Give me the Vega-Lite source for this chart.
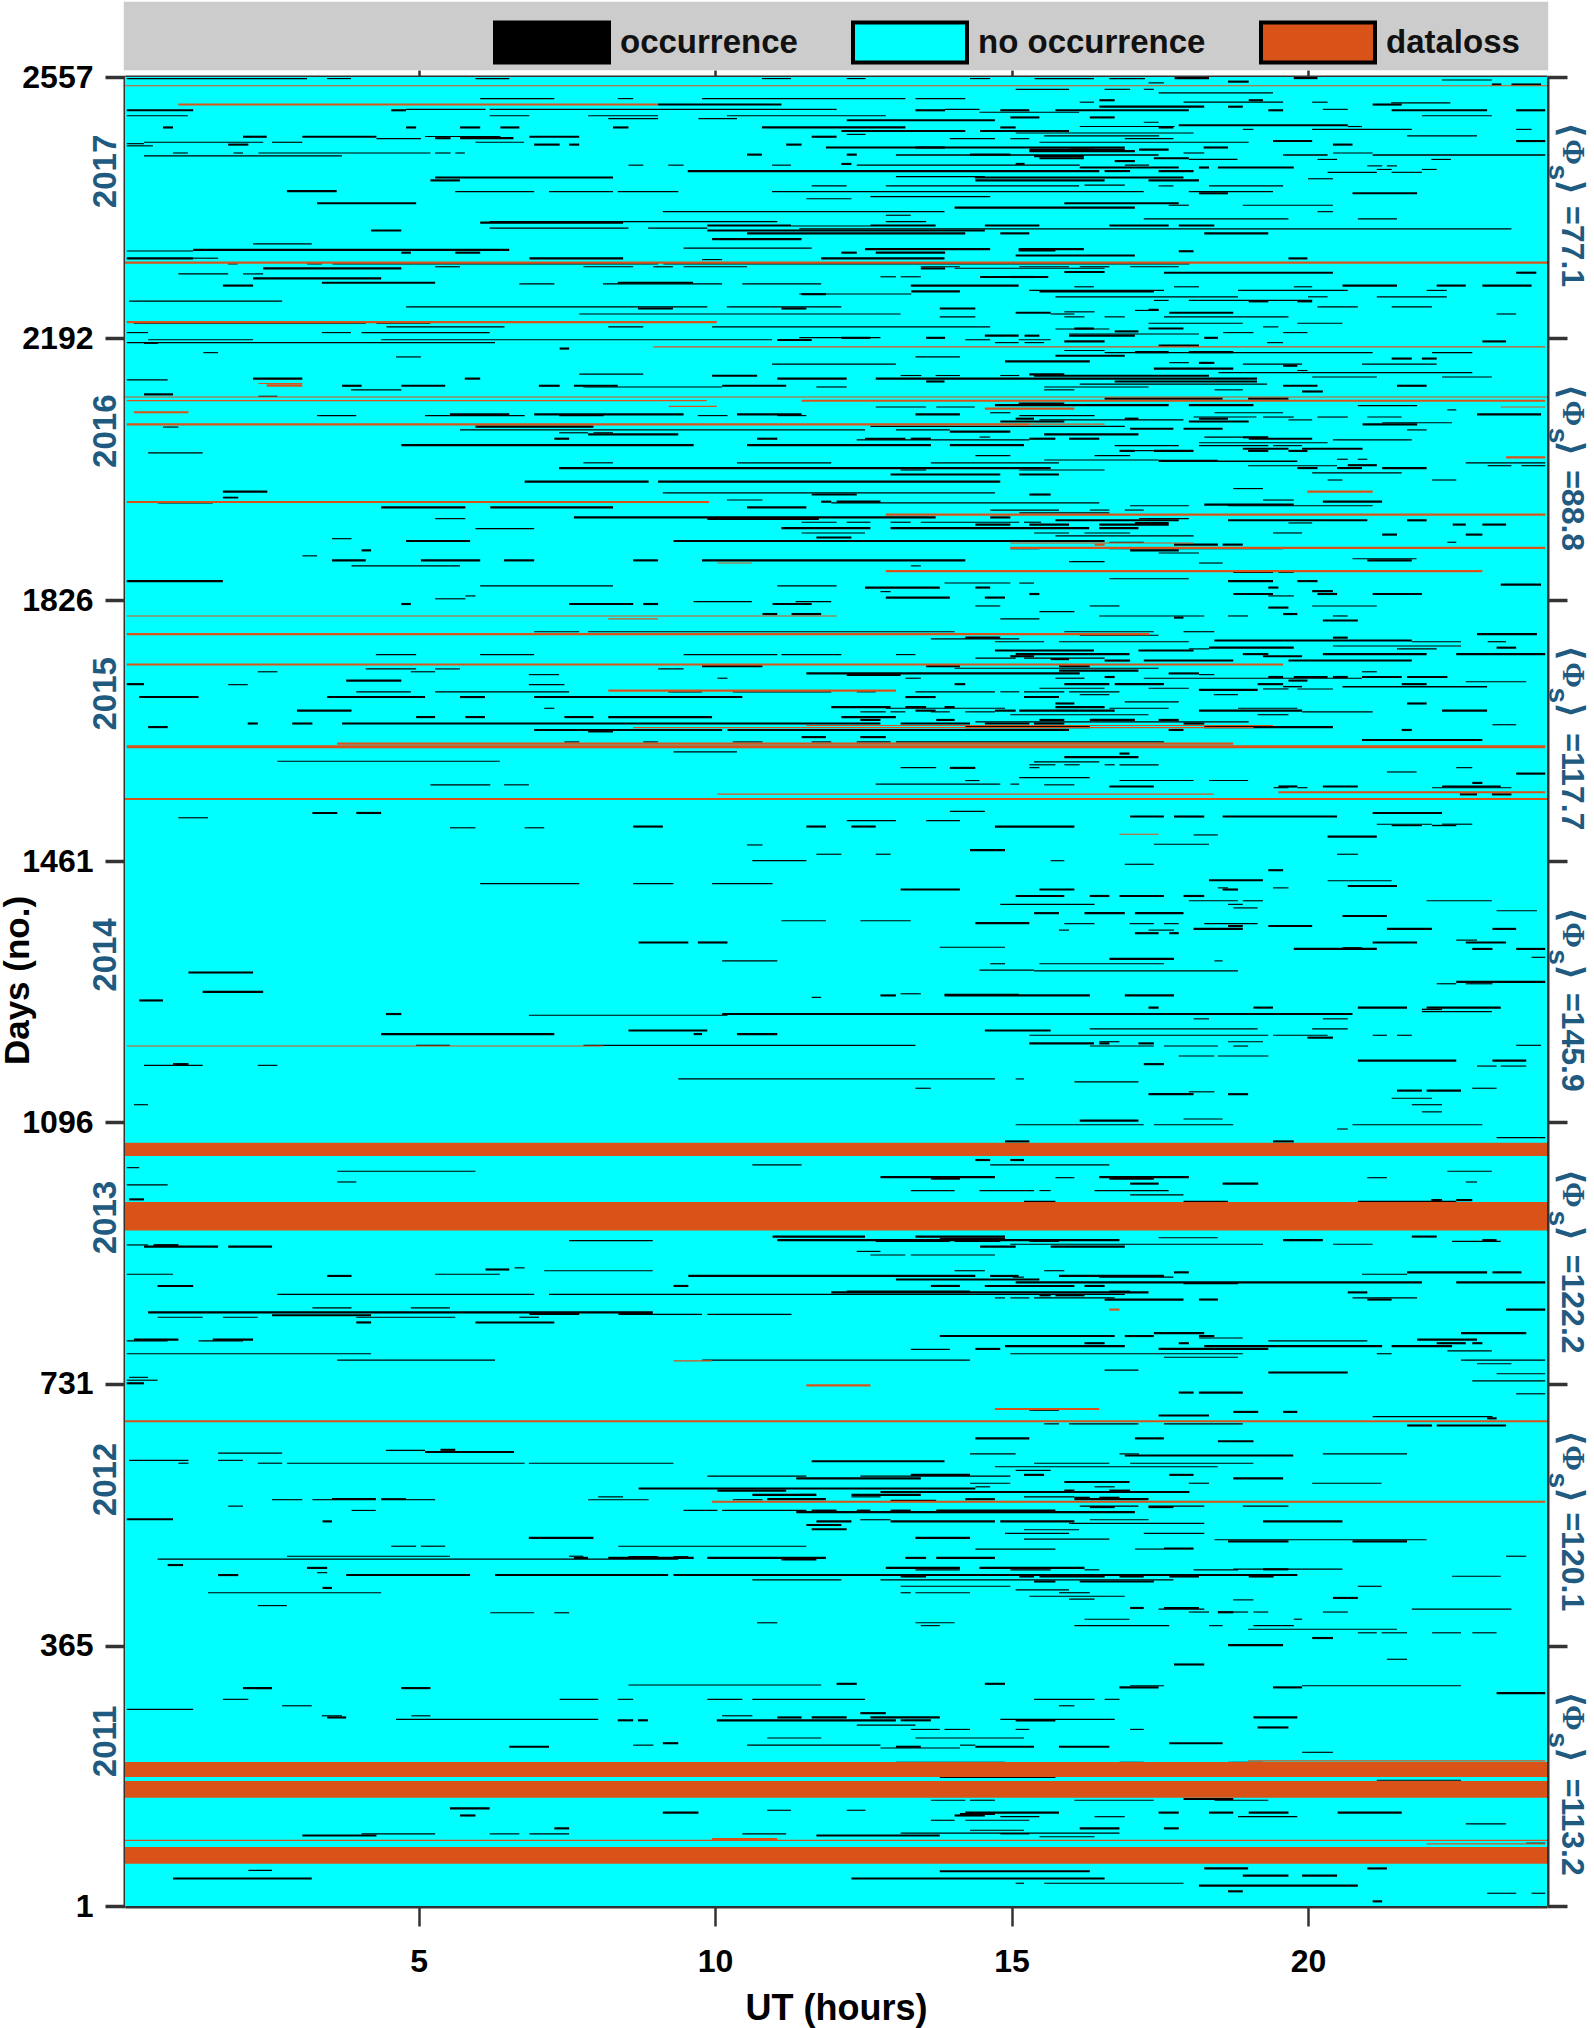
{"$schema":"https://vega.github.io/schema/vega-lite/v6.json","autosize":{"type":"none"},"padding":{"left":125,"top":77,"right":47,"bottom":122},"width":1422,"height":1829,"background":"white","config":{"view":{"stroke":null},"font":"Liberation Sans"},
"datasets":{"occ":[
{"d":2554,"f":2555.6,"s":0.08,"e":3.12},{"d":2554,"f":2555.6,"s":3.46,"e":3.86},{"d":2554,"f":2555.6,"s":5.96,"e":6.53},{"d":2554,"f":2555.6,"s":10.79,"e":11.28},{"d":2554,"f":2555.6,"s":12.22,"e":12.54},{"d":2554,"f":2555.6,"s":14.3,"e":14.64},{"d":2554,"f":2555.6,"s":15.39,"e":16.39},{"d":2554,"f":2555.6,"s":16.65,"e":17.25},{"d":2554,"f":2557,"s":17.75,"e":18.33},{"d":2554,"f":2557,"s":19.76,"e":20.16},{"d":2549,"f":2552,"s":18.65,"e":19},{"d":2552,"f":2553.6,"s":22.26,"e":23.1},{"d":2548,"f":2549.6,"s":17.31,"e":17.57},{"d":2545,"f":2548,"s":23.1,"e":23.26},{"d":2545,"f":2548,"s":23.43,"e":23.93},
{"d":2539,"f":2540.6,"s":15.07,"e":15.97},{"d":2539,"f":2540.6,"s":16.57,"e":17},{"d":2539,"f":2540.6,"s":17.23,"e":17.4},{"d":2534,"f":2535.6,"s":17.48,"e":19.41},{"d":2526,"f":2527.6,"s":6.04,"e":7.29},{"d":2526,"f":2527.6,"s":8.36,"e":8.62},{"d":2526,"f":2527.6,"s":9.78,"e":13.21},{"d":2526,"f":2527.6,"s":13.38,"e":14.22},{"d":2523,"f":2526,"s":16.48,"e":16.74},{"d":2523,"f":2526,"s":19,"e":19.24},{"d":2521,"f":2522.6,"s":16.15,"e":16.39},{"d":2521,"f":2522.6,"s":17.9,"e":19.58},{"d":2521,"f":2522.6,"s":20.07,"e":20.33},{"d":2520,"f":2521.6,"s":21.4,"e":22.4},{"d":2517,"f":2520,"s":9.04,"e":11.12},{"d":2517,"f":2520,"s":21.09,"e":21.58},{"d":2514,"f":2517,"s":16.48,"e":18.25},{"d":2514,"f":2517,"s":18.65,"e":18.9},
{"d":2511,"f":2512.6,"s":4.79,"e":6.13},{"d":2511,"f":2512.6,"s":6.2,"e":12.05},{"d":2511,"f":2512.6,"s":13.88,"e":14.46},{"d":2511,"f":2512.6,"s":20.25,"e":20.67},{"d":2509,"f":2512,"s":0.08,"e":1.2},{"d":2509,"f":2512,"s":4.54,"e":4.79},{"d":2509,"f":2512,"s":13.38,"e":13.88},{"d":2509,"f":2512,"s":14.81,"e":15.3},{"d":2509,"f":2512,"s":15.74,"e":17.99},{"d":2509,"f":2512,"s":19.33,"e":19.58},{"d":2509,"f":2512,"s":21.41,"e":23.02},{"d":2509,"f":2512,"s":23.51,"e":24},{"d":2507,"f":2508.6,"s":14.46,"e":16.14},{"d":2502,"f":2503.6,"s":0.08,"e":1.11},{"d":2502,"f":2503.6,"s":6.2,"e":6.87},{"d":2502,"f":2503.6,"s":7.86,"e":9.04},{"d":2502,"f":2503.6,"s":10.2,"e":12.88},{"d":2502,"f":2503.6,"s":21.92,"e":23.1},{"d":2499,"f":2502,"s":14.98,"e":15.47},{"d":2499,"f":2502,"s":16.32,"e":16.74},{"d":2498,"f":2499.6,"s":8.2,"e":9.04},{"d":2498,"f":2499.6,"s":9.72,"e":10.37},{"d":2495,"f":2498,"s":12.22,"e":14.72},{"d":2493,"f":2494.6,"s":17.23,"e":17.48},{"d":2488,"f":2491,"s":17.82,"e":20.67},{"d":2487,"f":2488.6,"s":16.15,"e":17.75},{"d":2487,"f":2488.6,"s":20.67,"e":20.91},{"d":2485,"f":2488,"s":0.69,"e":0.86},{"d":2485,"f":2488,"s":4.79,"e":4.96},{"d":2485,"f":2488,"s":5.7,"e":6.04},{"d":2485,"f":2488,"s":6.38,"e":6.7},{"d":2485,"f":2488,"s":8.28,"e":8.54},{"d":2485,"f":2488,"s":10.79,"e":13.21},{"d":2485,"f":2488,"s":14.81,"e":15.07},{"d":2485,"f":2488,"s":17.48,"e":17.73},{"d":2483,"f":2484.6,"s":20.07,"e":21.75},{"d":2483,"f":2484.6,"s":23.51,"e":23.77},{"d":2483,"f":2484.6,"s":18.9,"e":19.08},{"d":2480,"f":2483,"s":12.13,"e":14.22},{"d":2480,"f":2483,"s":14.47,"e":15.97},{"d":2478,"f":2479.6,"s":15.07,"e":18.07},{"d":2476,"f":2477.6,"s":12.22,"e":12.54},
{"d":2474,"f":2475.6,"s":15.55,"e":17.49},{"d":2474,"f":2475.6,"s":21.67,"e":22.85},{"d":2472,"f":2475,"s":2.04,"e":2.44},{"d":2472,"f":2475,"s":3.04,"e":4.29},{"d":2473,"f":2474.6,"s":5.11,"e":6.38},{"d":2472,"f":2475,"s":6.87,"e":7.71},{"d":2472,"f":2475,"s":11.63,"e":12.05},{"d":2470,"f":2473,"s":5.28,"e":5.54},{"d":2470,"f":2473,"s":5.7,"e":6.6},{"d":2470,"f":2471.6,"s":4.29,"e":5.04},{"d":2470,"f":2471.6,"s":13.96,"e":14.72},{"d":2470,"f":2471.6,"s":14.98,"e":15.3},{"d":2470,"f":2471.6,"s":16.91,"e":17.73},{"d":2466,"f":2469,"s":19.41,"e":20.07},{"d":2466,"f":2469,"s":23.51,"e":24},{"d":2465,"f":2466.6,"s":0.37,"e":2.38},{"d":2465,"f":2466.6,"s":2.53,"e":3.04},{"d":2465,"f":2466.6,"s":5.96,"e":6.78},{"d":2465,"f":2466.6,"s":15.47,"e":19},{"d":2463,"f":2464.6,"s":0.08,"e":0.37},{"d":2461,"f":2464,"s":1.79,"e":2.13},{"d":2461,"f":2464,"s":6.95,"e":7.38},{"d":2461,"f":2464,"s":7.54,"e":7.71},{"d":2461,"f":2464,"s":11.2,"e":11.46},{"d":2461,"f":2464,"s":20.42,"e":20.75},{"d":2460,"f":2461.6,"s":0.08,"e":0.52},{"d":2457,"f":2460,"s":11.87,"e":16.91},{"d":2457,"f":2460,"s":13.38,"e":13.88},{"d":2457,"f":2460,"s":18.24,"e":18.65},{"d":2454,"f":2457,"s":15.3,"e":16.39},{"d":2454,"f":2457,"s":15.97,"e":16.91},{"d":2454,"f":2457,"s":17.15,"e":17.65},{"d":2452,"f":2455,"s":15.3,"e":17.08},{"d":2450,"f":2451.6,"s":0.86,"e":1.11},{"d":2450,"f":2451.6,"s":1.88,"e":2.04},{"d":2450,"f":2451.6,"s":2.3,"e":5.2},{"d":2450,"f":2451.6,"s":5.28,"e":5.54},{"d":2450,"f":2451.6,"s":5.62,"e":5.78},{"d":2450,"f":2451.6,"s":17.9,"e":18.25},{"d":2450,"f":2451.6,"s":20.42,"e":21.09},{"d":2447,"f":2450,"s":10.54,"e":10.79},{"d":2447,"f":2449,"s":13.05,"e":17.48},{"d":2447,"f":2449,"s":19.58,"e":20.33},{"d":2447,"f":2449,"s":21.09,"e":24},{"d":2447,"f":2450,"s":12.22,"e":12.39},{"d":2447,"f":2450,"s":14.3,"e":14.98},{"d":2445,"f":2448,"s":15.38,"e":16.22},{"d":2446,"f":2447.6,"s":0.37,"e":3.71},{"d":2442,"f":2445,"s":15.47,"e":16.22},{"d":2442,"f":2445,"s":17.4,"e":17.99},{"d":2441,"f":2442.6,"s":17.99,"e":18.81},{"d":2441,"f":2442.6,"s":20.16,"e":20.49},{"d":2441,"f":2442.6,"s":22.08,"e":22.41},{"d":2438,"f":2441,"s":16.74,"e":17.08},{"d":2434,"f":2437,"s":12.13,"e":12.3},{"d":2434,"f":2437,"s":15.07,"e":15.22},{"d":2433,"f":2434.6,"s":8.54,"e":8.79},{"d":2433,"f":2434.6,"s":9.21,"e":9.47},{"d":2433,"f":2434.6,"s":10.96,"e":11.28},{"d":2433,"f":2434.6,"s":12.39,"e":16.15},{"d":2433,"f":2434.6,"s":16.91,"e":17.32},{"d":2432,"f":2433.6,"s":21,"e":21.25},{"d":2432,"f":2433.6,"s":21.33,"e":21.5},{"d":2429,"f":2432,"s":16.15,"e":17.82},{"d":2429,"f":2432,"s":18.16,"e":18.33},{"d":2429,"f":2432,"s":18.48,"e":19.76},{"d":2427,"f":2428.6,"s":21.16,"e":21.41},{"d":2427,"f":2428.6,"s":21.92,"e":22.17},{"d":2424,"f":2427,"s":9.54,"e":16.48},{"d":2424,"f":2427,"s":16.57,"e":17},{"d":2424,"f":2427,"s":17.48,"e":18.07},{"d":2423,"f":2424.6,"s":20.33,"e":21.16},{"d":2423,"f":2424.6,"s":21.41,"e":21.92},{"d":2417,"f":2418.6,"s":13.05,"e":14.55},{"d":2415,"f":2418,"s":5.28,"e":8.28},{"d":2415,"f":2418,"s":14.38,"e":17.9},{"d":2414,"f":2415.6,"s":20,"e":20.42},{"d":2411,"f":2414,"s":5.2,"e":5.7},{"d":2411,"f":2414,"s":14.39,"e":16.57},{"d":2411,"f":2414,"s":17.31,"e":18.16},{"d":2405,"f":2406.6,"s":16.23,"e":16.91},{"d":2404,"f":2405.6,"s":11.63,"e":12.22},{"d":2404,"f":2405.6,"s":12.88,"e":16.14},{"d":2404,"f":2405.6,"s":17.48,"e":17.73},{"d":2404,"f":2405.6,"s":18.33,"e":19.58},{"d":2396,"f":2399,"s":2.78,"e":3.62},{"d":2396,"f":2397.6,"s":5.62,"e":6.95},{"d":2396,"f":2397.6,"s":7.2,"e":8.28},{"d":2396,"f":2397.6,"s":8.36,"e":9.38},{"d":2396,"f":2397.6,"s":10.96,"e":17.23},{"d":2396,"f":2397.6,"s":17.99,"e":19.41},{"d":2393,"f":2396,"s":18.16,"e":18.65},{"d":2393,"f":2396,"s":20.75,"e":21.84},{"d":2389,"f":2390.6,"s":12.62,"e":14.64},{"d":2386,"f":2387.6,"s":11.54,"e":12.3},
{"d":2379,"f":2382,"s":3.29,"e":4.96},{"d":2379,"f":2382,"s":15.89,"e":17.82},{"d":2377,"f":2378.6,"s":17.65,"e":17.99},{"d":2377,"f":2378.6,"s":18.9,"e":20.42},{"d":2373,"f":2376,"s":14.04,"e":17.08},{"d":2368,"f":2369.6,"s":9.12,"e":13.87},{"d":2368,"f":2369.6,"s":20.16,"e":20.42},{"d":2363,"f":2364.6,"s":12.88,"e":13.3},{"d":2358,"f":2359.6,"s":17.23,"e":19.67},{"d":2358,"f":2359.6,"s":20.84,"e":21.5},{"d":2354,"f":2355.6,"s":6.2,"e":11.05},{"d":2354,"f":2355.6,"s":12.88,"e":13.56},{"d":2352,"f":2355,"s":6.04,"e":8.45},{"d":2348,"f":2351,"s":9.87,"e":11.28},{"d":2348,"f":2349.6,"s":11.28,"e":12.62},{"d":2348,"f":2351,"s":12.62,"e":13.72},{"d":2348,"f":2351,"s":14.55,"e":15.47},{"d":2348,"f":2351,"s":16.65,"e":17.65},{"d":2348,"f":2351,"s":17.82,"e":18.42},{"d":2345,"f":2346.6,"s":6.2,"e":8.54},{"d":2345,"f":2346.6,"s":8.87,"e":9.87},{"d":2344,"f":2345.6,"s":11.42,"e":23.43},{"d":2341,"f":2344,"s":4.2,"e":4.71},{"d":2341,"f":2344,"s":9.87,"e":14.55},{"d":2337,"f":2340,"s":10.54,"e":14.22},{"d":2337,"f":2340,"s":14.81,"e":15.3},{"d":2337,"f":2340,"s":18.25,"e":19.33},{"d":2329,"f":2332,"s":9.95,"e":11.46},{"d":2323,"f":2324.6,"s":2.21,"e":3.2},{"d":2317,"f":2318.6,"s":9.47,"e":11.63},{"d":2315,"f":2318,"s":12.53,"e":14.64},{"d":2315,"f":2318,"s":15.12,"e":16.22},{"d":2314,"f":2317,"s":1.2,"e":6.53},{"d":2313,"f":2314.6,"s":0.08,"e":1.2},{"d":2313,"f":2316,"s":15.12,"e":15.74},{"d":2312,"f":2315,"s":17.82,"e":18.07},{"d":2310,"f":2313,"s":4.71,"e":4.87},{"d":2310,"f":2313,"s":5.62,"e":6.04},{"d":2310,"f":2313,"s":12.13,"e":12.39},{"d":2310,"f":2313,"s":12.71,"e":13.88},{"d":2306,"f":2309,"s":15.07,"e":17.08},{"d":2302,"f":2305,"s":0.08,"e":1.2},{"d":2303,"f":2304.6,"s":1.2,"e":1.62},{"d":2302,"f":2305,"s":6.87,"e":8.45},{"d":2302,"f":2305,"s":11.79,"e":13.87},{"d":2302,"f":2305,"s":19.67,"e":19.99},{"d":2301,"f":2302.6,"s":9.78,"e":10.12},
{"d":2295,"f":2296.6,"s":1.79,"e":1.95},{"d":2295,"f":2296.6,"s":3.12,"e":3.37},{"d":2295,"f":2296.6,"s":3.55,"e":9.04},{"d":2295,"f":2296.6,"s":9.13,"e":18},{"d":2291,"f":2292.6,"s":5.28,"e":5.7},{"d":2291,"f":2292.6,"s":7.78,"e":8.62},{"d":2291,"f":2292.6,"s":8.96,"e":9.29},{"d":2291,"f":2292.6,"s":9.47,"e":10.54},{"d":2291,"f":2292.6,"s":13.47,"e":14.13},{"d":2291,"f":2292.6,"s":15.13,"e":15.97},{"d":2291,"f":2292.6,"s":16.15,"e":16.65},{"d":2291,"f":2292.6,"s":17,"e":17.82},{"d":2288,"f":2291,"s":2.38,"e":4.71},{"d":2288,"f":2291,"s":13.47,"e":13.88},{"d":2289,"f":2290.6,"s":14.04,"e":16.57},{"d":2283,"f":2286,"s":15.89,"e":16.57},{"d":2282,"f":2285,"s":17.57,"e":20.42},{"d":2282,"f":2285,"s":23.51,"e":23.85},{"d":2281,"f":2282.6,"s":0.95,"e":1.79},{"d":2281,"f":2282.6,"s":2.04,"e":2.38},{"d":2276,"f":2279,"s":14.47,"e":15.62},{"d":2276,"f":2279,"s":14.98,"e":15.38},{"d":2277,"f":2278.6,"s":12.79,"e":13.05},{"d":2277,"f":2278.6,"s":13.13,"e":13.47},{"d":2274,"f":2277,"s":2.21,"e":4.37},{"d":2268,"f":2271,"s":3.37,"e":5.28},{"d":2268,"f":2271,"s":8.36,"e":9.63},{"d":2267,"f":2268.6,"s":6.7,"e":7.29},{"d":2267,"f":2268.6,"s":8.11,"e":10.12},{"d":2267,"f":2268.6,"s":10.46,"e":11.79},{"d":2264,"f":2267,"s":1.7,"e":2.21},{"d":2264,"f":2267,"s":13.3,"e":15.12},{"d":2264,"f":2267,"s":20.58,"e":21.5},{"d":2264,"f":2267,"s":22.17,"e":22.66},{"d":2264,"f":2267,"s":22.94,"e":23.77},{"d":2263,"f":2264.6,"s":16.06,"e":16.39},{"d":2263,"f":2264.6,"s":17.74,"e":18.16},{"d":2263,"f":2264.6,"s":19.76,"e":20.07},{"d":2258,"f":2259.6,"s":15.3,"e":17.57},{"d":2258,"f":2259.6,"s":18.82,"e":20.67},{"d":2258,"f":2259.6,"s":22,"e":22.34},{"d":2256,"f":2259,"s":15.47,"e":17.4},{"d":2256,"f":2259,"s":13.31,"e":14.13},{"d":2253,"f":2254.6,"s":11.42,"e":13.31},{"d":2252,"f":2255,"s":11.46,"e":11.87},{"d":2249,"f":2250.6,"s":15.74,"e":18.82},{"d":2249,"f":2250.6,"s":20,"e":20.33},{"d":2249,"f":2250.6,"s":21.16,"e":22.34},{"d":2243,"f":2244.6,"s":0.12,"e":2.7},{"d":2244,"f":2245.6,"s":17.4,"e":17.65},{"d":2244,"f":2245.6,"s":17.99,"e":20.07},{"d":2242,"f":2245,"s":19,"e":19.33},{"d":2242,"f":2245,"s":19.82,"e":20.07},{"d":2235,"f":2236.6,"s":4.79,"e":9.87},{"d":2235,"f":2236.6,"s":10.2,"e":12.13},{"d":2235,"f":2236.6,"s":20.16,"e":20.84},{"d":2235,"f":2236.6,"s":21.41,"e":22.09},{"d":2232,"f":2235,"s":8.7,"e":9.29},{"d":2232,"f":2235,"s":11.12,"e":11.54},{"d":2232,"f":2235,"s":13.79,"e":14.39},{"d":2230,"f":2233,"s":17.31,"e":17.48},{"d":2230,"f":2231.6,"s":17.08,"e":17.48},{"d":2228,"f":2229.6,"s":15.89,"e":16.4},{"d":2226,"f":2229,"s":15.07,"e":15.66},{"d":2226,"f":2229,"s":17.66,"e":18.74},{"d":2225,"f":2226.6,"s":7.71,"e":13.13},{"d":2225,"f":2226.6,"s":15.66,"e":16.06},{"d":2225,"f":2226.6,"s":23.18,"e":23.51},{"d":2221,"f":2222.6,"s":13.79,"e":14.39},{"d":2221,"f":2222.6,"s":15.89,"e":16.23},{"d":2221,"f":2222.6,"s":16.57,"e":16.91},{"d":2221,"f":2222.6,"s":17.57,"e":19.67},{"d":2212,"f":2213.6,"s":0.2,"e":4.11},{"d":2212,"f":2213.6,"s":4.29,"e":5.2},{"d":2212,"f":2213.6,"s":17.31,"e":18.9},{"d":2212,"f":2213.6,"s":19.82,"e":20.58},{"d":2207,"f":2208.6,"s":4.46,"e":6.45},{"d":2207,"f":2208.6,"s":8.2,"e":8.79},{"d":2207,"f":2208.6,"s":9.95,"e":14.64},{"d":2207,"f":2208.6,"s":19.24,"e":19.5},{"d":2204,"f":2205.6,"s":15.74,"e":16.65},{"d":2204,"f":2207,"s":16.06,"e":16.39},{"d":2204,"f":2207,"s":17.31,"e":17.9},{"d":2200,"f":2203,"s":16.74,"e":17.14},{"d":2199,"f":2200.6,"s":0.08,"e":0.44},{"d":2199,"f":2200.6,"s":3.37,"e":3.86},{"d":2199,"f":2200.6,"s":4.04,"e":6.2},{"d":2199,"f":2200.6,"s":18.57,"e":19.08},{"d":2199,"f":2200.6,"s":19.58,"e":19.99},{"d":2197,"f":2198.6,"s":15.97,"e":18.16},{"d":2194,"f":2197,"s":14.55,"e":15.12},{"d":2194,"f":2197,"s":15.22,"e":15.47},{"d":2194,"f":2197,"s":15.97,"e":17.08},{"d":2191,"f":2194,"s":13.56,"e":13.88},{"d":2191,"f":2194,"s":12.13,"e":12.62},{"d":2192,"f":2193.6,"s":11.42,"e":12.79},{"d":2191,"f":2194,"s":18.25,"e":18.48},{"d":2189,"f":2190.6,"s":0.44,"e":2.21},{"d":2189,"f":2190.6,"s":4.37,"e":10.96},{"d":2189,"f":2190.6,"s":14.22,"e":14.64},{"d":2189,"f":2190.6,"s":15.12,"e":15.66},{"d":2188,"f":2191,"s":11.05,"e":11.63},{"d":2186,"f":2189,"s":15.89,"e":16.57},{"d":2186,"f":2189,"s":22.94,"e":23.34},{"d":2185,"f":2186.6,"s":0.08,"e":6.29},{"d":2184,"f":2186,"s":0.37,"e":0.61},{"d":2185,"f":2186.6,"s":14.72,"e":15.12},{"d":2185,"f":2186.6,"s":15.22,"e":15.55},{"d":2185,"f":2186.6,"s":19.31,"e":19.58},{"d":2180,"f":2183,"s":17.48,"e":18.16},{"d":2176,"f":2179,"s":7.38,"e":7.54},{"d":2174,"f":2175.6,"s":15.89,"e":16.57},{"d":2171,"f":2174,"s":17.08,"e":17.65},{"d":2171,"f":2174,"s":17.99,"e":18.74},{"d":2171,"f":2172.6,"s":1.37,"e":1.62},{"d":2171,"f":2172.6,"s":16.57,"e":21.09},{"d":2171,"f":2172.6,"s":22.09,"e":22.77},{"d":2166,"f":2169,"s":15.74,"e":16.91},{"d":2165,"f":2166.6,"s":4.62,"e":5.04},{"d":2165,"f":2166.6,"s":13.38,"e":14.13},{"d":2162,"f":2165,"s":21.41,"e":21.75},{"d":2162,"f":2165,"s":21.92,"e":22.17},{"d":2158,"f":2161,"s":14.89,"e":16.32},{"d":2157,"f":2158.6,"s":17.66,"e":17.99},{"d":2156,"f":2159,"s":18.16,"e":18.42},{"d":2155,"f":2156.6,"s":10.96,"e":13.05},{"d":2155,"f":2156.6,"s":18.9,"e":19.9},{"d":2155,"f":2156.6,"s":20.91,"e":22.17},{"d":2152,"f":2155,"s":19.58,"e":19.82},{"d":2148,"f":2151,"s":17.4,"e":18.74},{"d":2146,"f":2147.6,"s":19.82,"e":19.99},{"d":2143,"f":2144.6,"s":18.49,"e":22.77},{"d":2141,"f":2142.6,"s":7.71,"e":8.79},{"d":2140,"f":2143,"s":15.3,"e":15.89},{"d":2138,"f":2141,"s":9.95,"e":10.71},{"d":2138,"f":2141,"s":15.38,"e":18.33},{"d":2139,"f":2140.6,"s":13.13,"e":13.48},{"d":2139,"f":2140.6,"s":13.72,"e":14.13},{"d":2139,"f":2140.6,"s":14.81,"e":15.13},{"d":2137,"f":2138.6,"s":20.07,"e":21.16},{"d":2137,"f":2138.6,"s":22.26,"e":23.1},{"d":2134,"f":2137,"s":2.21,"e":3.04},{"d":2134,"f":2137,"s":5.78,"e":6.04},{"d":2134,"f":2137,"s":11.05,"e":12.22},{"d":2134,"f":2137,"s":12.71,"e":19.14},{"d":2133,"f":2134.6,"s":0.08,"e":0.77},{"d":2130,"f":2133,"s":13.56,"e":13.87},{"d":2130,"f":2133,"s":16.74,"e":19.14},{"d":2127,"f":2128.6,"s":16.15,"e":19.31},{"d":2124,"f":2127,"s":3.71,"e":4.04},{"d":2124,"f":2127,"s":4.71,"e":5.45},{"d":2124,"f":2127,"s":7.03,"e":7.38},{"d":2124,"f":2127,"s":7.62,"e":8.36},{"d":2124,"f":2127,"s":10.12,"e":11.2},{"d":2124,"f":2127,"s":19.58,"e":20.16},{"d":2124,"f":2127,"s":21.5,"e":22},{"d":2123,"f":2124.6,"s":7.78,"e":10.12},{"d":2123,"f":2124.6,"s":11.71,"e":12.22},{"d":2123,"f":2124.6,"s":15.55,"e":17.31},{"d":2119,"f":2120.6,"s":3.86,"e":4.71},{"d":2119,"f":2120.6,"s":15.55,"e":16.06},{"d":2119,"f":2120.6,"s":18.42,"e":18.9},{"d":2116,"f":2119,"s":19.9,"e":20.25},{"d":2112,"f":2115,"s":0.37,"e":0.86},{"d":2110,"f":2111.6,"s":2.3,"e":2.62},{"d":2106,"f":2109,"s":16.57,"e":18.56},{"d":2106,"f":2109,"s":18.99,"e":19.67},{"d":2099,"f":2102,"s":15.12,"e":15.89},{"d":2097,"f":2100,"s":14.72,"e":17.65},{"d":2097,"f":2100,"s":17.99,"e":19.08},{"d":2095,"f":2096.6,"s":12.71,"e":13.56},{"d":2095,"f":2096.6,"s":13.73,"e":14.38},{"d":2097,"f":2098.6,"s":20.84,"e":21.84},{"d":2091,"f":2092.6,"s":22.35,"e":22.5},{"d":2087,"f":2088.6,"s":14.64,"e":14.98},{"d":2087,"f":2088.6,"s":18.42,"e":19.58},{"d":2084,"f":2087,"s":5.53,"e":6.53},{"d":2084,"f":2087,"s":6.95,"e":9.47},{"d":2084,"f":2087,"s":10.37,"e":11.46},{"d":2084,"f":2087,"s":13.38,"e":14.13},{"d":2084,"f":2087,"s":22.85,"e":23.93},{"d":2083,"f":2084.6,"s":3.29,"e":3.95},{"d":2083,"f":2084.6,"s":5.11,"e":6.79},{"d":2083,"f":2084.6,"s":7.37,"e":8.12},{"d":2083,"f":2084.6,"s":9.71,"e":10.21},{"d":2083,"f":2084.6,"s":11.05,"e":11.54},{"d":2083,"f":2084.6,"s":15.13,"e":16.4},{"d":2081,"f":2082.6,"s":18.07,"e":19.13},{"d":2081,"f":2082.6,"s":19.24,"e":19.76},{"d":2081,"f":2082.6,"s":20.16,"e":20.67},{"d":2081,"f":2082.6,"s":21,"e":21.58},{"d":2078,"f":2081,"s":15.07,"e":15.38},{"d":2078,"f":2081,"s":16.91,"e":17.14},{"d":2078,"f":2081,"s":18.16,"e":18.65},{"d":2077,"f":2078.6,"s":15.47,"e":17.9},{"d":2077,"f":2078.6,"s":19.67,"e":20.07},{"d":2074,"f":2077,"s":14.81,"e":15.89},{"d":2074,"f":2077,"s":17.99,"e":19},{"d":2073,"f":2074.6,"s":21.25,"e":22.43},{"d":2070,"f":2073,"s":20.92,"e":21.84},{"d":2067,"f":2070,"s":5.96,"e":7.95},{"d":2068,"f":2069.6,"s":12.62,"e":16.91},{"d":2067,"f":2068.6,"s":0.69,"e":0.95},{"d":2064,"f":2067,"s":17,"e":17.73},{"d":2064,"f":2067,"s":17.9,"e":18.56},{"d":2063,"f":2064.6,"s":5.7,"e":12.53},{"d":2063,"f":2064.6,"s":13.05,"e":13.96},{"d":2063,"f":2064.6,"s":21.67,"e":22},{"d":2060,"f":2063,"s":13.96,"e":14.98},{"d":2059,"f":2060.6,"s":7.37,"e":7.86},{"d":2059,"f":2060.6,"s":7.95,"e":8.28},{"d":2056,"f":2059,"s":7.86,"e":9.38},{"d":2056,"f":2059,"s":15.55,"e":17.14},{"d":2053,"f":2054.6,"s":14.46,"e":14.64},{"d":2053,"f":2054.6,"s":18.25,"e":18.9},{"d":2052,"f":2055,"s":18.9,"e":19.33},{"d":2050,"f":2053,"s":7.29,"e":7.54},{"d":2050,"f":2053,"s":10.71,"e":11.05},{"d":2050,"f":2053,"s":12.53,"e":13.21},{"d":2050,"f":2053,"s":13.3,"e":13.64},{"d":2050,"f":2053,"s":15.3,"e":15.74},{"d":2050,"f":2053,"s":15.97,"e":16.48},{"d":2050,"f":2053,"s":19,"e":20.07},{"d":2049,"f":2050.6,"s":12.39,"e":15.3},{"d":2049,"f":2050.6,"s":20.42,"e":21.75},{"d":2045,"f":2046.6,"s":18.16,"e":20.33},{"d":2041,"f":2044,"s":4.71,"e":9.64},{"d":2041,"f":2044,"s":10.54,"e":13.64},{"d":2041,"f":2044,"s":13.96,"e":15.21},{"d":2041,"f":2042.6,"s":16.74,"e":17.82},{"d":2041,"f":2042.6,"s":18.16,"e":19.33},{"d":2041,"f":2042.6,"s":19.41,"e":19.9},{"d":2036,"f":2039,"s":18.9,"e":19.67},{"d":2036,"f":2039,"s":19.9,"e":20.92},{"d":2033,"f":2036,"s":16.82,"e":17.08},{"d":2033,"f":2036,"s":17.4,"e":18.07},{"d":2033,"f":2036,"s":18.99,"e":19.33},{"d":2033,"f":2036,"s":19.67,"e":19.99},{"d":2034,"f":2035.6,"s":17.08,"e":17.4},{"d":2031,"f":2032.6,"s":0.44,"e":1.36},{"d":2027,"f":2028.6,"s":14.39,"e":14.98},{"d":2027,"f":2028.6,"s":16.4,"e":17},{"d":2022,"f":2023.6,"s":20.49,"e":20.67},{"d":2022,"f":2023.6,"s":20.84,"e":21},{"d":2021,"f":2022.6,"s":15.55,"e":17.48},{"d":2019,"f":2022,"s":17.48,"e":18.48},{"d":2019,"f":2021,"s":18.48,"e":19.82},{"d":2017,"f":2018.6,"s":7.78,"e":8.28},{"d":2017,"f":2018.6,"s":10.37,"e":11.96},{"d":2017,"f":2018.6,"s":13.64,"e":15.8},{"d":2017,"f":2018.6,"s":22.66,"e":24},{"d":2013,"f":2016,"s":20.67,"e":21.16},{"d":2013,"f":2014.6,"s":18.99,"e":20.49},{"d":2013,"f":2014.6,"s":23.03,"e":23.43},{"d":2013,"f":2014.6,"s":23.6,"e":24},{"d":2009,"f":2012,"s":7.37,"e":15.66},{"d":2009,"f":2012,"s":19.82,"e":20.16},{"d":2009,"f":2012,"s":20.49,"e":20.91},{"d":2009,"f":2012,"s":21.25,"e":22},{"d":2007,"f":2008.6,"s":13.13,"e":13.56},{"d":2007,"f":2008.6,"s":15.13,"e":16.57},{"d":2003,"f":2004.6,"s":20.07,"e":21.58},{"d":2000,"f":2003,"s":12.96,"e":14.81},{"d":2000,"f":2003,"s":15.13,"e":15.8},{"d":1993,"f":1994.6,"s":20.33,"e":20.58},{"d":1993,"f":1994.6,"s":22.09,"e":22.5},{"d":1990,"f":1993,"s":6.79,"e":8.88},{"d":1990,"f":1993,"s":9.04,"e":14.81},{"d":1981,"f":1982.6,"s":18.74,"e":19.24},{"d":1976,"f":1979,"s":1.7,"e":2.45},{"d":1975,"f":1976.6,"s":9.12,"e":14.72},{"d":1972,"f":1975,"s":11.63,"e":12.39},{"d":1972,"f":1975,"s":15.3,"e":15.66},{"d":1968,"f":1970.5,"s":1.7,"e":1.96},{"d":1965,"f":1966.6,"s":10.2,"e":10.8},{"d":1965,"f":1966.6,"s":19.24,"e":19.76},{"d":1962,"f":1965,"s":11.79,"e":11.96},{"d":1962,"f":1965,"s":12.05,"e":12.79},{"d":1962,"f":1965,"s":20.25,"e":21.25},{"d":1961,"f":1962.6,"s":0.6,"e":1.53},{"d":1961,"f":1962.6,"s":11.96,"e":16.48},{"d":1958,"f":1961,"s":18.25,"e":19.76},{"d":1957,"f":1958.6,"s":17,"e":17.99},{"d":1957,"f":1958.6,"s":18.65,"e":21.09},{"d":1954,"f":1957,"s":4.37,"e":5.79},{"d":1954,"f":1957,"s":6.21,"e":8.28},{"d":1954,"f":1957,"s":10.54,"e":11.54},{"d":1951,"f":1952.6,"s":14.64,"e":15.8},{"d":1951,"f":1952.6,"s":16.32,"e":16.65},{"d":1951,"f":1952.6,"s":16.91,"e":17.23},{"d":1947,"f":1948.6,"s":15.13,"e":16.65},{"d":1940,"f":1943,"s":7.62,"e":13.72},{"d":1938,"f":1941,"s":9.87,"e":11.75},{"d":1940,"f":1943,"s":14.64,"e":14.98},{"d":1939,"f":1940.6,"s":5.28,"e":5.79},{"d":1939,"f":1940.6,"s":17.15,"e":17.99},{"d":1936,"f":1939,"s":15.74,"e":17.82},{"d":1936,"f":1939,"s":18.65,"e":21},{"d":1936,"f":1939,"s":21.67,"e":22},{"d":1934,"f":1935.6,"s":11.46,"e":12.05},{"d":1934,"f":1935.6,"s":12.22,"e":12.62},{"d":1934,"f":1935.6,"s":12.96,"e":13.3},{"d":1934,"f":1935.6,"s":13.47,"e":15.13},{"d":1934,"f":1935.6,"s":15.21,"e":15.5},{"d":1932,"f":1935,"s":17.08,"e":17.65},{"d":1933,"f":1934.6,"s":19.67,"e":20.07},{"d":1930,"f":1933,"s":14.39,"e":14.98},{"d":1930,"f":1933,"s":15.3,"e":15.97},{"d":1930,"f":1933,"s":16.48,"e":17.65},{"d":1930,"f":1933,"s":22.44,"e":22.66},{"d":1930,"f":1933,"s":22.94,"e":23.34},{"d":1925,"f":1928,"s":11.12,"e":12.62},{"d":1925,"f":1928,"s":12.96,"e":16.31},{"d":1925,"f":1928,"s":16.48,"e":17.14},{"d":1925,"f":1926.6,"s":5.96,"e":6.95},{"d":1919,"f":1920.6,"s":11.46,"e":12.53},{"d":1919,"f":1920.6,"s":15.38,"e":15.97},{"d":1919,"f":1920.6,"s":16.23,"e":17},{"d":1919,"f":1920.6,"s":19.41,"e":19.9},{"d":1916,"f":1919,"s":21.25,"e":21.5},{"d":1916,"f":1919,"s":22.66,"e":22.94},{"d":1915,"f":1916.6,"s":15.74,"e":18.07},{"d":1912,"f":1915,"s":11.71,"e":12.3},{"d":1911,"f":1912.6,"s":3.54,"e":3.87},{"d":1907,"f":1910,"s":4.79,"e":5.87},{"d":1907,"f":1910,"s":9.3,"e":16.57},{"d":1906,"f":1907.6,"s":16.65,"e":17.23},{"d":1906,"f":1907.6,"s":22.35,"e":22.5},{"d":1902,"f":1905,"s":17.74,"e":18.48},{"d":1902,"f":1905,"s":18.56,"e":18.9},{"d":1897,"f":1898.6,"s":14.98,"e":15.47},{"d":1897,"f":1898.6,"s":16.65,"e":19.58},{"d":1894,"f":1897,"s":4.04,"e":4.2},{"d":1894,"f":1897,"s":17,"e":17.82},{"d":1891,"f":1892.6,"s":17.48,"e":18.16},{"d":1887,"f":1888.6,"s":3.04,"e":3.29},{"d":1883,"f":1884.6,"s":20.75,"e":21.83},{"d":1880,"f":1883,"s":3.54,"e":4.11},{"d":1880,"f":1883,"s":5.04,"e":6.04},{"d":1880,"f":1883,"s":6.44,"e":6.95},{"d":1880,"f":1883,"s":8.62,"e":9.04},{"d":1880,"f":1883,"s":9.78,"e":14.22},{"d":1880,"f":1883,"s":21,"e":21.75},{"d":1879,"f":1880.6,"s":15.97,"e":16.57},{"d":1877,"f":1878.6,"s":18.16,"e":18.56},{"d":1873,"f":1874.6,"s":3.87,"e":5.7},{"d":1873,"f":1874.6,"s":13.3,"e":13.47},{"d":1864,"f":1865.6,"s":18.74,"e":19.41},{"d":1864,"f":1865.6,"s":19.5,"e":19.76},{"d":1855,"f":1856.6,"s":16.65,"e":17.99},{"d":1851,"f":1854,"s":0.08,"e":1.7},{"d":1851,"f":1854,"s":18.65,"e":19.41},{"d":1851,"f":1854,"s":19.82,"e":20.16},{"d":1849,"f":1850.6,"s":13.87,"e":14.98},{"d":1849,"f":1850.6,"s":15.13,"e":15.38},{"d":1846,"f":1849,"s":23.25,"e":23.93},{"d":1845,"f":1846.6,"s":6.04,"e":8.28},{"d":1845,"f":1846.6,"s":11.05,"e":12.05},{"d":1842,"f":1845,"s":12.53,"e":13.79},{"d":1842,"f":1845,"s":14.39,"e":14.64},{"d":1842,"f":1845,"s":19.33,"e":19.5},{"d":1837,"f":1840,"s":20.07,"e":20.42},{"d":1837,"f":1838.6,"s":12.79,"e":12.96},{"d":1833,"f":1836,"s":15.3,"e":15.47},{"d":1833,"f":1836,"s":18.74,"e":19.41},{"d":1833,"f":1836,"s":20.16,"e":20.49},{"d":1833,"f":1836,"s":21.09,"e":21.92},{"d":1831,"f":1832.6,"s":5.79,"e":5.96},{"d":1831,"f":1832.6,"s":19.33,"e":19.76},{"d":1828,"f":1831,"s":12.88,"e":13.96},{"d":1828,"f":1831,"s":14.55,"e":14.89},{"d":1827,"f":1828.6,"s":5.28,"e":5.79},{"d":1823,"f":1824.6,"s":9.64,"e":10.62},{"d":1823,"f":1824.6,"s":11.36,"e":11.96},{"d":1819,"f":1822,"s":4.71,"e":4.87},{"d":1819,"f":1822,"s":7.54,"e":8.62},{"d":1819,"f":1822,"s":8.79,"e":9.04},{"d":1819,"f":1822,"s":10.97,"e":11.63},{"d":1817,"f":1818.6,"s":14.39,"e":14.81},{"d":1817,"f":1818.6,"s":16.32,"e":16.82},{"d":1817,"f":1818.6,"s":20.07,"e":21.16},{"d":1814,"f":1817,"s":19.33,"e":19.67},{"d":1809,"f":1810.6,"s":15.47,"e":16.06},{"d":1805,"f":1808,"s":10.8,"e":11.05},{"d":1805,"f":1808,"s":11.29,"e":11.79},{"d":1805,"f":1808,"s":19.58,"e":19.82},{"d":1803,"f":1804.6,"s":16.48,"e":18.25},{"d":1803,"f":1804.6,"s":18.65,"e":18.99},{"d":1803,"f":1804.6,"s":20.42,"e":20.67},{"d":1800,"f":1803,"s":17.74,"e":17.9},{"d":1799,"f":1800.6,"s":14.81,"e":15.47},{"d":1796,"f":1799,"s":20.25,"e":20.84},{"d":1781,"f":1782.6,"s":6.95,"e":7.71},{"d":1781,"f":1782.6,"s":7.86,"e":14.04},{"d":1781,"f":1782.6,"s":15.89,"e":17.4},{"d":1781,"f":1782.6,"s":17.9,"e":18.42},{"d":1777,"f":1780,"s":22.85,"e":23.86},{"d":1776,"f":1777.6,"s":16.15,"e":17.48},{"d":1772,"f":1775,"s":14.22,"e":14.81},{"d":1772,"f":1775,"s":20.42,"e":20.67},{"d":1771,"f":1772.6,"s":13.64,"e":15.13},{"d":1768,"f":1771,"s":18.42,"e":21.75},{"d":1767,"f":1768.6,"s":14.72,"e":15.55},{"d":1767,"f":1768.6,"s":15.8,"e":17.99},{"d":1767,"f":1768.6,"s":21.75,"e":22.58},{"d":1767,"f":1768.6,"s":23.03,"e":23.34},{"d":1761,"f":1762.6,"s":20.42,"e":22.58},{"d":1758,"f":1761,"s":18.33,"e":19.76},{"d":1758,"f":1761,"s":23.18,"e":23.51},{"d":1757,"f":1758.6,"s":17.99,"e":18.33},{"d":1757,"f":1758.6,"s":21.5,"e":22.17},{"d":1754,"f":1757,"s":14.72,"e":16.39},{"d":1754,"f":1757,"s":17.14,"e":18.07},{"d":1749,"f":1752,"s":15.07,"e":16.99},{"d":1749,"f":1752,"s":18.9,"e":19.33},{"d":1749,"f":1752,"s":20.25,"e":22},{"d":1749,"f":1752,"s":22.5,"e":24},{"d":1749,"f":1750.6,"s":4.28,"e":4.96},{"d":1749,"f":1750.6,"s":6.04,"e":6.95},{"d":1749,"f":1750.6,"s":9.47,"e":11.05},{"d":1749,"f":1750.6,"s":11.12,"e":12.13},{"d":1749,"f":1750.6,"s":13.05,"e":13.38},{"d":1746,"f":1749,"s":14.98,"e":15.38},{"d":1746,"f":1749,"s":19.24,"e":19.9},{"d":1744,"f":1745.6,"s":14.39,"e":15.07},{"d":1744,"f":1745.6,"s":15.21,"e":16.57},{"d":1742,"f":1745,"s":15.66,"e":15.97},{"d":1740,"f":1743,"s":16.57,"e":17},{"d":1740,"f":1743,"s":17.23,"e":18.74},{"d":1740,"f":1743,"s":19.67,"e":21.75},{"d":1732,"f":1735,"s":9.78,"e":10.8},{"d":1732,"f":1735,"s":13.56,"e":14.13},{"d":1732,"f":1735,"s":15.8,"e":16.32},{"d":1730,"f":1731.6,"s":14.04,"e":17.48},{"d":1729,"f":1730.6,"s":4.11,"e":4.96},{"d":1729,"f":1730.6,"s":5.28,"e":5.7},{"d":1729,"f":1730.6,"s":9.04,"e":9.47},{"d":1726,"f":1729,"s":15.8,"e":17.14},{"d":1725,"f":1726.6,"s":2.29,"e":2.62},{"d":1725,"f":1726.6,"s":4.87,"e":5.28},{"d":1725,"f":1726.6,"s":20.91,"e":21.16},{"d":1722,"f":1725,"s":11.54,"e":16.15},{"d":1722,"f":1725,"s":17.65,"e":18.16},{"d":1720,"f":1723,"s":12.22,"e":13.13},{"d":1721,"f":1722.6,"s":6.86,"e":7.37},{"d":1721,"f":1722.6,"s":18.16,"e":18.42},{"d":1717,"f":1720,"s":16.57,"e":16.74},{"d":1717,"f":1720,"s":19.33,"e":19.58},{"d":1717,"f":1720,"s":19.76,"e":20.33},{"d":1717,"f":1720,"s":20.42,"e":20.67},{"d":1717,"f":1720,"s":20.91,"e":21.58},{"d":1717,"f":1720,"s":21.67,"e":22.35},{"d":1716,"f":1717.6,"s":10.04,"e":10.21},{"d":1716,"f":1717.6,"s":13.21,"e":13.47},{"d":1716,"f":1717.6,"s":15.74,"e":16.23},{"d":1716,"f":1717.6,"s":17.23,"e":20.91},{"d":1712,"f":1715,"s":3.78,"e":4.71},{"d":1712,"f":1715,"s":19.67,"e":19.99},{"d":1711,"f":1712.6,"s":22.66,"e":23.68},{"d":1707,"f":1710,"s":0.08,"e":0.37},{"d":1707,"f":1710,"s":14.04,"e":14.22},{"d":1707,"f":1710,"s":15.89,"e":16.65},{"d":1707,"f":1710,"s":16.74,"e":17.57},{"d":1707,"f":1710,"s":19.15,"e":19.58},{"d":1707,"f":1710,"s":21.58,"e":22},{"d":1707,"f":1708.6,"s":1.79,"e":2.12},{"d":1707,"f":1708.6,"s":6.86,"e":7.46},{"d":1704,"f":1706,"s":19.58,"e":19.9},{"d":1704,"f":1706,"s":20.58,"e":23.02},{"d":1702,"f":1703.6,"s":15.47,"e":16.57},{"d":1702,"f":1703.6,"s":17.31,"e":17.99},{"d":1701,"f":1702.6,"s":19.24,"e":19.67},{"d":1701,"f":1702.6,"s":19.82,"e":20.42},{"d":1699,"f":1702,"s":18.16,"e":19.15},{"d":1697,"f":1698.6,"s":3.95,"e":4.87},{"d":1697,"f":1698.6,"s":5.28,"e":7.54},{"d":1697,"f":1698.6,"s":9.21,"e":9.78},{"d":1697,"f":1698.6,"s":10.3,"e":11.96},{"d":1697,"f":1698.6,"s":12.39,"e":12.71},{"d":1697,"f":1698.6,"s":13.38,"e":14.72},{"d":1697,"f":1698.6,"s":14.81,"e":15.13},{"d":1697,"f":1698.6,"s":15.21,"e":15.89},{"d":1697,"f":1698.6,"s":15.97,"e":16.82},{"d":1693,"f":1694.6,"s":16.15,"e":16.65},{"d":1693,"f":1694.6,"s":18.41,"e":18.82},{"d":1689,"f":1692,"s":0.29,"e":1.29},{"d":1689,"f":1692,"s":3.46,"e":5.11},{"d":1689,"f":1692,"s":5.7,"e":6.12},{"d":1689,"f":1692,"s":6.95,"e":10.46},{"d":1689,"f":1692,"s":13.21,"e":13.72},{"d":1689,"f":1692,"s":15.21,"e":15.8},{"d":1683,"f":1684.6,"s":16.91,"e":17.82},{"d":1680,"f":1683,"s":15.74,"e":16.06},{"d":1680,"f":1683,"s":21.67,"e":22},{"d":1675,"f":1678,"s":11.96,"e":12.96},{"d":1675,"f":1678,"s":13.21,"e":13.56},{"d":1675,"f":1678,"s":13.87,"e":14.04},{"d":1675,"f":1678,"s":15.74,"e":16.57},{"d":1674,"f":1675.6,"s":7.12,"e":7.29},{"d":1674,"f":1675.6,"s":12.88,"e":14.89},{"d":1674,"f":1675.6,"s":16.65,"e":17.65},{"d":1674,"f":1675.6,"s":18.82,"e":19.82},{"d":1670,"f":1673,"s":2.95,"e":3.87},{"d":1670,"f":1673,"s":13.38,"e":13.72},{"d":1670,"f":1673,"s":14.72,"e":15.07},{"d":1670,"f":1673,"s":15.13,"e":16.74},{"d":1670,"f":1673,"s":18.16,"e":19.9},{"d":1670,"f":1673,"s":22.26,"e":23.02},{"d":1669,"f":1670.6,"s":12.45,"e":12.88},{"d":1669,"f":1670.6,"s":12.96,"e":13.21},{"d":1669,"f":1670.6,"s":13.64,"e":13.96},{"d":1669,"f":1670.6,"s":14.22,"e":14.72},{"d":1669,"f":1670.6,"s":19.9,"e":21.09},{"d":1665,"f":1666.6,"s":14.98,"e":17.31},{"d":1665,"f":1666.6,"s":19.15,"e":19.67},{"d":1661,"f":1664,"s":4.96,"e":5.28},{"d":1661,"f":1664,"s":5.79,"e":6.12},{"d":1661,"f":1664,"s":7.46,"e":7.95},{"d":1661,"f":1664,"s":8.2,"e":9.95},{"d":1661,"f":1664,"s":12.13,"e":13.05},{"d":1657,"f":1660,"s":12.45,"e":12.79},{"d":1657,"f":1660,"s":13.73,"e":14.04},{"d":1657,"f":1660,"s":15.47,"e":15.89},{"d":1657,"f":1660,"s":16.32,"e":17.08},{"d":1657,"f":1660,"s":17.48,"e":17.82},{"d":1655,"f":1656.6,"s":14.39,"e":19},{"d":1652,"f":1655,"s":2.12,"e":2.29},{"d":1652,"f":1655,"s":2.87,"e":3.21},{"d":1652,"f":1655,"s":3.71,"e":12.79},{"d":1652,"f":1655,"s":13.13,"e":14.3},{"d":1652,"f":1655,"s":14.55,"e":15.3},{"d":1652,"f":1655,"s":15.38,"e":15.89},{"d":1652,"f":1655,"s":17.9,"e":18.25},{"d":1651,"f":1652.6,"s":23.11,"e":23.51},{"d":1647,"f":1650,"s":0.44,"e":0.77},{"d":1647,"f":1650,"s":14.22,"e":16.32},{"d":1647,"f":1650,"s":18.25,"e":20.42},{"d":1643,"f":1646,"s":6.95,"e":10.12},{"d":1643,"f":1646,"s":10.21,"e":15.97},{"d":1643,"f":1646,"s":17.65,"e":17.9},{"d":1643,"f":1646,"s":21.58,"e":21.75},{"d":1641,"f":1644,"s":7.86,"e":8.28},{"d":1633,"f":1636,"s":11.46,"e":11.87},{"d":1633,"f":1636,"s":12.45,"e":12.88},{"d":1629,"f":1632,"s":20.91,"e":22.94},{"d":1627,"f":1628.6,"s":7.46,"e":7.71},{"d":1627,"f":1628.6,"s":8.79,"e":9.04},{"d":1627,"f":1628.6,"s":10.3,"e":10.8},{"d":1627,"f":1628.6,"s":11.63,"e":11.96},{"d":1627,"f":1628.6,"s":12.39,"e":12.96},{"d":1627,"f":1628.6,"s":13.05,"e":17.57},{"d":1613,"f":1614.6,"s":9.3,"e":10.37},{"d":1610,"f":1613,"s":16.82,"e":16.99},{"d":1605,"f":1608,"s":15.89,"e":17.14},{"d":1600,"f":1601.6,"s":2.62,"e":6.37},{"d":1599,"f":1600.6,"s":15.38,"e":16.48},{"d":1595,"f":1596.6,"s":15.3,"e":15.74},{"d":1595,"f":1596.6,"s":15.89,"e":16.15},{"d":1595,"f":1596.6,"s":16.57,"e":16.74},{"d":1595,"f":1596.6,"s":16.82,"e":17.48},{"d":1591,"f":1592.6,"s":13.13,"e":13.73},{"d":1591,"f":1592.6,"s":15.3,"e":15.47},{"d":1590,"f":1593,"s":13.96,"e":14.39},{"d":1591,"f":1592.6,"s":22.5,"e":22.77},{"d":1585,"f":1586.6,"s":21.33,"e":21.83},{"d":1582,"f":1585,"s":23.51,"e":24},{"d":1577,"f":1578.6,"s":15.13,"e":16.32},{"d":1573,"f":1574.6,"s":14.22,"e":14.46},{"d":1573,"f":1574.6,"s":16.82,"e":18.07},{"d":1573,"f":1574.6,"s":18.33,"e":18.99},{"d":1569,"f":1572,"s":22.77,"e":22.94},{"d":1568,"f":1569.6,"s":12.71,"e":14.81},{"d":1568,"f":1569.6,"s":14.98,"e":15.13},{"d":1567,"f":1568.6,"s":5.2,"e":6.21},{"d":1567,"f":1568.6,"s":6.44,"e":6.86},{"d":1567,"f":1568.6,"s":15.55,"e":16.06},{"d":1564,"f":1567,"s":16.65,"e":17.4},{"d":1564,"f":1567,"s":19.5,"e":19.82},{"d":1564,"f":1567,"s":20.25,"e":20.84},{"d":1564,"f":1567,"s":22.26,"e":23.25},{"d":1563,"f":1564.6,"s":19.42,"e":19.67},{"d":1563,"f":1564.6,"s":19.82,"e":19.99},{"d":1563,"f":1564.6,"s":22.09,"e":23.43},{"d":1553,"f":1556,"s":22.56,"e":22.85},{"d":1553,"f":1556,"s":23.1,"e":23.43},
{"d":1530,"f":1531.6,"s":13.96,"e":14.55},{"d":1527,"f":1530,"s":3.21,"e":3.63},{"d":1527,"f":1530,"s":3.95,"e":4.37},{"d":1527,"f":1530,"s":21.09,"e":22.26},{"d":1522,"f":1525,"s":17,"e":17.57},{"d":1522,"f":1525,"s":17.74,"e":18.25},{"d":1522,"f":1525,"s":18.56,"e":20.49},{"d":1521,"f":1522.6,"s":0.95,"e":1.45},{"d":1517,"f":1518.6,"s":12.22,"e":13.05},{"d":1517,"f":1518.6,"s":13.56,"e":14.13},{"d":1512,"f":1513.6,"s":21.16,"e":22.09},{"d":1512,"f":1513.6,"s":22.26,"e":22.77},{"d":1510,"f":1512,"s":21.41,"e":21.92},{"d":1510,"f":1512,"s":22.09,"e":22.5},{"d":1508,"f":1511,"s":8.62,"e":9.12},{"d":1508,"f":1511,"s":11.54,"e":11.87},{"d":1508,"f":1511,"s":12.3,"e":12.71},{"d":1508,"f":1511,"s":14.72,"e":16.06},{"d":1507,"f":1508.6,"s":5.53,"e":5.96},{"d":1507,"f":1508.6,"s":6.79,"e":7.12},{"d":1497,"f":1498.6,"s":18.07,"e":18.48},{"d":1494,"f":1497,"s":20.33,"e":21.16},{"d":1484,"f":1485.6,"s":17.4,"e":18.33},{"d":1483,"f":1484.6,"s":10.54,"e":10.8},{"d":1475,"f":1478,"s":14.3,"e":14.89},{"d":1470,"f":1471.6,"s":11.71,"e":12.13},{"d":1470,"f":1471.6,"s":12.71,"e":12.96},{"d":1470,"f":1471.6,"s":20.49,"e":20.84},{"d":1461,"f":1462.6,"s":10.63,"e":11.54},{"d":1461,"f":1462.6,"s":15.66,"e":15.89},{"d":1456,"f":1457.6,"s":16.91,"e":17.4},{"d":1447,"f":1450,"s":19.33,"e":19.58},{"d":1433,"f":1436,"s":18.33,"e":19.24},{"d":1433,"f":1434.6,"s":20.33,"e":21.41},{"d":1429,"f":1430.6,"s":6.04,"e":7.71},{"d":1429,"f":1430.6,"s":8.62,"e":9.3},{"d":1429,"f":1430.6,"s":9.95,"e":10.97},{"d":1425,"f":1428,"s":20.67,"e":21.5},{"d":1423,"f":1424.6,"s":18.48,"e":18.65},{"d":1423,"f":1424.6,"s":19.41,"e":19.67},{"d":1420,"f":1423,"s":13.13,"e":14.13},{"d":1420,"f":1423,"s":15.47,"e":16.06},{"d":1420,"f":1423,"s":18.56,"e":18.82},{"d":1411,"f":1414,"s":15.07,"e":15.89},{"d":1411,"f":1414,"s":16.32,"e":16.65},{"d":1411,"f":1414,"s":16.82,"e":17.57},{"d":1411,"f":1414,"s":17.9,"e":18.25},{"d":1405,"f":1406.6,"s":17.99,"e":18.82},{"d":1405,"f":1406.6,"s":18.9,"e":19.24},{"d":1405,"f":1406.6,"s":22,"e":23.1},{"d":1400,"f":1401.6,"s":14.81,"e":16.4},{"d":1400,"f":1401.6,"s":18.65,"e":18.9},{"d":1395,"f":1396.6,"s":18.74,"e":19.15},{"d":1391,"f":1392.6,"s":23.18,"e":23.86},{"d":1387,"f":1390,"s":15.38,"e":15.8},{"d":1387,"f":1390,"s":16.23,"e":16.91},{"d":1387,"f":1390,"s":17.08,"e":17.9},{"d":1383,"f":1386,"s":20.58,"e":21.33},{"d":1377,"f":1378.6,"s":11.12,"e":11.87},{"d":1377,"f":1378.6,"s":12.45,"e":13.3},{"d":1373,"f":1376,"s":14.39,"e":15.3},{"d":1373,"f":1374.6,"s":15.89,"e":16.4},{"d":1373,"f":1374.6,"s":16.99,"e":17.4},{"d":1373,"f":1374.6,"s":17.57,"e":17.82},{"d":1373,"f":1374.6,"s":18.25,"e":19.15},{"d":1369,"f":1372,"s":18.65,"e":18.9},{"d":1369,"f":1372,"s":19.33,"e":20.07},{"d":1365,"f":1368,"s":18.07,"e":18.9},{"d":1365,"f":1368,"s":21.33,"e":22.09},{"d":1365,"f":1368,"s":23.11,"e":23.51},{"d":1364,"f":1365.6,"s":15.8,"e":15.97},{"d":1364,"f":1365.6,"s":17.31,"e":17.74},{"d":1359,"f":1362,"s":17.08,"e":17.48},{"d":1359,"f":1362,"s":17.66,"e":17.82},{"d":1350,"f":1351.6,"s":22.5,"e":22.85},{"d":1346,"f":1349,"s":8.71,"e":9.55},{"d":1346,"f":1349,"s":9.71,"e":10.21},{"d":1346,"f":1349,"s":21.09,"e":21.84},{"d":1346,"f":1349,"s":22.66,"e":23.34},{"d":1340,"f":1341.6,"s":13.79,"e":14.89},{"d":1337,"f":1340,"s":19.76,"e":21.16},{"d":1337,"f":1340,"s":22.77,"e":23.11},{"d":1337,"f":1340,"s":23.51,"e":24},{"d":1339,"f":1341,"s":20.58,"e":20.91},{"d":1326,"f":1327.6,"s":23.77,"e":24},{"d":1323,"f":1326,"s":16.65,"e":17.74},{"d":1321,"f":1322.6,"s":10.12,"e":11.05},{"d":1321,"f":1322.6,"s":18.42,"e":18.56},{"d":1317,"f":1318.6,"s":14.64,"e":14.89},{"d":1317,"f":1318.6,"s":15.47,"e":17.57},{"d":1308,"f":1309.6,"s":14.46,"e":15.38},{"d":1307,"f":1308.6,"s":15.38,"e":18.82},{"d":1304,"f":1307,"s":1.12,"e":2.21},{"d":1291,"f":1294,"s":22.5,"e":24},{"d":1289,"f":1290.6,"s":22.17,"e":22.5},{"d":1289,"f":1290.6,"s":22.66,"e":23.11},{"d":1277,"f":1280,"s":1.36,"e":2.38},{"d":1275,"f":1276.6,"s":13.13,"e":13.47},{"d":1272,"f":1275,"s":12.79,"e":13.05},{"d":1272,"f":1275,"s":13.87,"e":16.32},{"d":1272,"f":1275,"s":16.91,"e":17.74},{"d":1274,"f":1276,"s":13.87,"e":15.12},{"d":1270,"f":1271.6,"s":11.63,"e":11.79},{"d":1265,"f":1268,"s":0.29,"e":0.69},{"d":1255,"f":1258,"s":17.31,"e":17.48},{"d":1255,"f":1258,"s":19.08,"e":19.41},{"d":1255,"f":1258,"s":20.84,"e":21.67},{"d":1255,"f":1258,"s":22,"e":23.25},{"d":1253,"f":1255,"s":21.92,"e":22.26},{"d":1250,"f":1251.6,"s":21.92,"e":23.1},{"d":1246,"f":1249,"s":4.45,"e":4.71},{"d":1246,"f":1249,"s":10.12,"e":20.75},{"d":1245,"f":1246.6,"s":6.86,"e":10.21},{"d":1240,"f":1241.6,"s":18.07,"e":18.33},{"d":1240,"f":1241.6,"s":20.25,"e":20.67},{"d":1226,"f":1227.6,"s":16.32,"e":19.15},{"d":1226,"f":1227.6,"s":20.07,"e":20.67},{"d":1223,"f":1226,"s":8.54,"e":9.87},{"d":1223,"f":1226,"s":14.55,"e":15.66},{"d":1218,"f":1221,"s":4.37,"e":7.29},{"d":1218,"f":1221,"s":9.64,"e":9.78},{"d":1218,"f":1221,"s":10.37,"e":11.05},{"d":1217,"f":1218.6,"s":15.3,"e":19.33},{"d":1217,"f":1218.6,"s":19.41,"e":20.33},{"d":1217,"f":1218.6,"s":21.09,"e":21.33},{"d":1217,"f":1218.6,"s":21.5,"e":21.75},{"d":1213,"f":1216,"s":19.99,"e":20.42},{"d":1208,"f":1209.6,"s":16.48,"e":16.82},{"d":1208,"f":1209.6,"s":18.65,"e":19.24},{"d":1205,"f":1208,"s":15.3,"e":16.39},{"d":1205,"f":1208,"s":16.48,"e":16.65},{"d":1205,"f":1208,"s":17.14,"e":17.4},{"d":1203,"f":1204.6,"s":4.96,"e":5.53},{"d":1203,"f":1204.6,"s":7.78,"e":13.38},{"d":1203,"f":1204.6,"s":23.51,"e":23.93},{"d":1202,"f":1203.6,"s":16.32,"e":17.4},{"d":1202,"f":1203.6,"s":17.57,"e":18.48},{"d":1202,"f":1203.6,"s":18.74,"e":18.99},{"d":1188,"f":1189.6,"s":17.82,"e":18.42},{"d":1188,"f":1189.6,"s":18.48,"e":19.33},{"d":1181,"f":1184,"s":20.84,"e":22.5},{"d":1181,"f":1184,"s":23.11,"e":23.68},{"d":1176,"f":1179,"s":0.86,"e":1.12},{"d":1176,"f":1179,"s":17.23,"e":17.57},{"d":1175,"f":1176.6,"s":0.37,"e":1.36},{"d":1175,"f":1176.6,"s":2.29,"e":2.62},{"d":1174,"f":1175.6,"s":22.85,"e":23.18},{"d":1174,"f":1175.6,"s":23.25,"e":23.68},{"d":1156,"f":1157.6,"s":9.38,"e":14.72},{"d":1156,"f":1157.6,"s":15.07,"e":15.21},{"d":1152,"f":1153.6,"s":16.06,"e":17.14},{"d":1143,"f":1144.6,"s":13.38,"e":13.64},{"d":1143,"f":1144.6,"s":22.77,"e":23.18},{"d":1139,"f":1142,"s":21.5,"e":21.92},{"d":1139,"f":1142,"s":22,"e":22.58},{"d":1138,"f":1139.6,"s":17.99,"e":18.42},{"d":1134,"f":1137,"s":17.31,"e":18.07},{"d":1134,"f":1137,"s":18.65,"e":18.99},{"d":1129,"f":1130.6,"s":21.41,"e":22.09},{"d":1120,"f":1121.6,"s":0.2,"e":0.44},{"d":1120,"f":1121.6,"s":21.75,"e":22.26},{"d":1110,"f":1111.6,"s":21.92,"e":22.26},{"d":1100,"f":1101.6,"s":17.9,"e":18.56},{"d":1097,"f":1100,"s":16.15,"e":17.14},{"d":1092,"f":1093.6,"s":15.07,"e":17.23},{"d":1092,"f":1093.6,"s":17.4,"e":18.74},{"d":1092,"f":1093.6,"s":20.75,"e":22.94},{"d":1086,"f":1087.6,"s":20.49,"e":20.67},{"d":1074,"f":1075.6,"s":23.18,"e":24},{"d":1068,"f":1071,"s":14.89,"e":15.3},{"d":1068,"f":1071,"s":19.41,"e":19.76},
{"d":1042,"f":1045,"s":14.39,"e":14.64},{"d":1042,"f":1045,"s":14.98,"e":15.21},{"d":1036,"f":1037.6,"s":10.63,"e":11.46},{"d":1036,"f":1037.6,"s":14.64,"e":16.65},{"d":1032,"f":1033.6,"s":0.08,"e":0.29},{"d":1027,"f":1028.6,"s":3.63,"e":5.96},{"d":1027,"f":1028.6,"s":22.35,"e":23.1},{"d":1018,"f":1021,"s":12.79,"e":14.72},{"d":1018,"f":1021,"s":16.48,"e":17.99},{"d":1016,"f":1019,"s":13.64,"e":14.13},{"d":1016,"f":1019,"s":16.65,"e":17.4},{"d":1018,"f":1019.6,"s":15.74,"e":16.06},{"d":1018,"f":1019.6,"s":21,"e":21.33},{"d":1012,"f":1013.6,"s":3.63,"e":3.95},{"d":1012,"f":1013.6,"s":22.66,"e":22.85},{"d":1009,"f":1012,"s":17,"e":17.48},{"d":1009,"f":1012,"s":18.56,"e":19.16},{"d":1008,"f":1009.6,"s":0.08,"e":0.77},{"d":1000,"f":1001.6,"s":13.3,"e":14.04},{"d":1000,"f":1001.6,"s":14.46,"e":15.38},{"d":1000,"f":1001.6,"s":15.47,"e":15.66},{"d":1000,"f":1001.6,"s":16.4,"e":17.65},{"d":994,"f":995.6,"s":17,"e":17.9},{"d":987,"f":990,"s":0.12,"e":0.37},{"d":985,"f":986.6,"s":15.21,"e":15.74},{"d":985,"f":986.6,"s":17.9,"e":18.65},{"d":985,"f":986.6,"s":20.84,"e":22.5},{"d":986,"f":989,"s":22.08,"e":22.26},{"d":986,"f":989,"s":22.5,"e":22.77},
{"d":935,"f":938,"s":10.97,"e":12.53},{"d":935,"f":938,"s":13.38,"e":14.89},{"d":935,"f":938,"s":21.75,"e":22.17},{"d":934,"f":935.6,"s":17.48,"e":18.48},{"d":932,"f":935,"s":13.79,"e":14.89},{"d":930,"f":933,"s":11.05,"e":16.82},{"d":930,"f":933,"s":19.58,"e":20.25},{"d":930,"f":933,"s":22.94,"e":23.18},{"d":930,"f":931.6,"s":7.54,"e":8.95},{"d":929,"f":932,"s":12.71,"e":13.96},{"d":929,"f":932,"s":14.04,"e":14.81},{"d":929,"f":932,"s":15.3,"e":15.8},{"d":929,"f":930.6,"s":22.43,"e":23.25},{"d":925,"f":926.6,"s":14.98,"e":19.24},{"d":925,"f":926.6,"s":20.42,"e":21.09},{"d":924,"f":925.6,"s":0.08,"e":0.44},{"d":923,"f":926,"s":0.53,"e":0.95},{"d":921,"f":924,"s":0.37,"e":1.62},{"d":921,"f":924,"s":1.79,"e":2.53},{"d":921,"f":924,"s":14.47,"e":15.07},{"d":921,"f":924,"s":15.66,"e":16.91},{"d":915,"f":916.6,"s":12.39,"e":12.79},{"d":910,"f":911.6,"s":12.62,"e":13.21},{"d":910,"f":911.6,"s":13.3,"e":14.72},{"d":892,"f":893.6,"s":6.62,"e":6.79},{"d":889,"f":892,"s":6.13,"e":6.53},{"d":888,"f":889.6,"s":7.12,"e":8.95},{"d":888,"f":889.6,"s":14.04,"e":14.55},{"d":888,"f":889.6,"s":15.55,"e":15.89},{"d":885,"f":888,"s":17.74,"e":17.99},{"d":885,"f":888,"s":21.67,"e":23.02},{"d":885,"f":888,"s":23.11,"e":23.6},{"d":883,"f":884.6,"s":0.08,"e":0.86},{"d":883,"f":884.6,"s":5.28,"e":6.37},{"d":883,"f":884.6,"s":20.91,"e":21.67},{"d":880,"f":883,"s":3.46,"e":3.87},{"d":880,"f":883,"s":9.55,"e":14.39},{"d":880,"f":883,"s":14.64,"e":15.12},{"d":880,"f":883,"s":15.8,"e":17.57},{"d":879,"f":880.6,"s":15.02,"e":15.21},{"d":879,"f":880.6,"s":16.48,"e":17.73},{"d":875,"f":878,"s":13.05,"e":15.47},{"d":871,"f":874,"s":15.07,"e":21.92},{"d":871,"f":874,"s":22.5,"e":24},{"d":870,"f":873,"s":17.9,"e":18.82},{"d":866,"f":869,"s":0.6,"e":1.2},{"d":866,"f":869,"s":9.3,"e":9.55},{"d":866,"f":869,"s":13.64,"e":14.13},{"d":866,"f":869,"s":14.55,"e":16.06},{"d":866,"f":869,"s":16.23,"e":16.57},{"d":858,"f":861,"s":12.22,"e":14.3},{"d":858,"f":861,"s":16.65,"e":17},{"d":857,"f":860,"s":11.96,"e":17.31},{"d":857,"f":860,"s":20.67,"e":21},{"d":855,"f":856.6,"s":2.62,"e":6.95},{"d":855,"f":856.6,"s":7.2,"e":16.91},{"d":853,"f":856,"s":15.47,"e":15.66},{"d":853,"f":856,"s":15.74,"e":16.23},{"d":850,"f":851.6,"s":14.72,"e":14.89},{"d":850,"f":851.6,"s":14.98,"e":15.3},{"d":850,"f":851.6,"s":15.38,"e":16.74},{"d":850,"f":851.6,"s":20.75,"e":21.84},{"d":847,"f":850,"s":16.57,"e":17.9},{"d":847,"f":850,"s":18.16,"e":18.48},{"d":847,"f":850,"s":21,"e":21.41},{"d":836,"f":837.6,"s":3.21,"e":3.87},{"d":836,"f":837.6,"s":4.87,"e":5.53},{"d":833,"f":836,"s":23.34,"e":24},{"d":829,"f":832,"s":0.44,"e":8.95},{"d":827,"f":830,"s":6.87,"e":7.71},{"d":827,"f":830,"s":8.37,"e":8.95},{"d":827,"f":828.6,"s":8.95,"e":9.78},{"d":827,"f":828.6,"s":9.87,"e":11.29},{"d":825,"f":828,"s":2.53,"e":4.2},{"d":823,"f":824.6,"s":0.6,"e":1.36},{"d":823,"f":824.6,"s":1.7,"e":2.29},{"d":823,"f":824.6,"s":3.95,"e":5.62},{"d":823,"f":824.6,"s":6.7,"e":7.03},{"d":815,"f":818,"s":3.95,"e":4.2},{"d":815,"f":818,"s":5.96,"e":7.29},{"d":800,"f":803,"s":17.4,"e":18.25},{"d":800,"f":803,"s":22.58,"e":23.68},{"d":796,"f":799,"s":13.79,"e":16.74},{"d":796,"f":799,"s":16.91,"e":17.4},{"d":796,"f":799,"s":18.16,"e":18.42},{"d":794,"f":795.6,"s":18.16,"e":18.9},{"d":791,"f":794,"s":0.2,"e":0.95},{"d":791,"f":794,"s":1.53,"e":2.21},{"d":791,"f":794,"s":21.84,"e":22.85},{"d":790,"f":791.6,"s":0.08,"e":0.77},{"d":790,"f":791.6,"s":1.29,"e":2.04},{"d":790,"f":791.6,"s":19.33,"e":21},{"d":786,"f":789,"s":16.23,"e":16.57},{"d":786,"f":789,"s":17.82,"e":17.99},{"d":786,"f":789,"s":22.17,"e":22.66},{"d":786,"f":789,"s":22.77,"e":22.94},{"d":782,"f":785,"s":14.89,"e":16.91},{"d":782,"f":785,"s":18.25,"e":21.25},{"d":782,"f":785,"s":21.41,"e":22.43},{"d":778,"f":781,"s":14.39,"e":14.81},{"d":778,"f":781,"s":17.48,"e":19.33},{"d":778,"f":779.6,"s":13.3,"e":13.96},{"d":776,"f":777.6,"s":22.35,"e":23.1},{"d":772,"f":773.6,"s":0.08,"e":4.2},{"d":772,"f":773.6,"s":14.98,"e":18.9},{"d":772,"f":773.6,"s":21.16,"e":21.41},{"d":767,"f":768.6,"s":17.57,"e":18.82},{"d":763,"f":764.6,"s":3.63,"e":6.29},{"d":763,"f":764.6,"s":9.78,"e":14.3},{"d":763,"f":764.6,"s":22.58,"e":24},{"d":758,"f":759.6,"s":22.85,"e":23.43},{"d":749,"f":750.6,"s":16.57,"e":17.14},{"d":745,"f":748,"s":19.33,"e":20.67},{"d":744,"f":745.6,"s":23.18,"e":24},{"d":739,"f":740.6,"s":0.12,"e":0.44},{"d":735,"f":736.6,"s":0.08,"e":0.6},{"d":734,"f":735.6,"s":22.77,"e":24},{"d":730,"f":733,"s":0.08,"e":0.37},{"d":717,"f":720,"s":17.82,"e":18.07},{"d":717,"f":720,"s":18.16,"e":18.9},{"d":716,"f":717.6,"s":23.51,"e":24},{"d":693,"f":695,"s":15.3,"e":15.8},{"d":690,"f":693,"s":18.74,"e":19.16},{"d":690,"f":693,"s":19.58,"e":19.82},{"d":685,"f":688,"s":17.48,"e":18.33},{"d":684,"f":685.6,"s":21.09,"e":23.11},{"d":681,"f":684,"s":23.02,"e":23.18},{"d":674,"f":675.6,"s":15.55,"e":15.8},{"d":674,"f":675.6,"s":15.97,"e":17.14},{"d":674,"f":675.6,"s":17.57,"e":18.9},{"d":671,"f":674,"s":21.67,"e":22.09},{"d":671,"f":674,"s":22.17,"e":23.34},{"d":653,"f":656,"s":14.39,"e":15.3},{"d":653,"f":656,"s":17.08,"e":17.57},{"d":649,"f":652,"s":18.48,"e":19.08},{"d":637,"f":640,"s":5.37,"e":5.62},{"d":637,"f":638.6,"s":4.45,"e":5.11},{"d":634,"f":637,"s":5.11,"e":6.61},{"d":633,"f":634.6,"s":1.62,"e":2.7},{"d":632,"f":633.6,"s":14.3,"e":15.07},{"d":632,"f":633.6,"s":16.82,"e":17.15},{"d":632,"f":633.6,"s":20.25,"e":21.67},{"d":629,"f":632,"s":16.91,"e":19.75},{"d":623,"f":624.6,"s":0.12,"e":1.12},{"d":623,"f":624.6,"s":1.62,"e":2.04},{"d":621,"f":624,"s":11.63,"e":13.87},{"d":619,"f":620.6,"s":0.95,"e":1.12},{"d":619,"f":620.6,"s":2.29,"e":2.7},{"d":619,"f":620.6,"s":2.78,"e":6.79},{"d":619,"f":620.6,"s":6.86,"e":9.3},{"d":619,"f":620.6,"s":15.38,"e":16.65},{"d":619,"f":620.6,"s":17,"e":19.08},{"d":614,"f":615.6,"s":14.72,"e":18.48},{"d":609,"f":610.6,"s":15.07,"e":15.66},{"d":602,"f":605,"s":13.3,"e":14.3},{"d":602,"f":605,"s":15.21,"e":15.55},{"d":602,"f":605,"s":17.66,"e":18.07},{"d":601,"f":602.6,"s":9.87,"e":11.54},{"d":601,"f":602.6,"s":12.45,"e":14.98},{"d":597,"f":600,"s":11.37,"e":13.47},{"d":597,"f":600,"s":18.74,"e":19.58},{"d":592,"f":595,"s":15.89,"e":16.99},{"d":591,"f":592.6,"s":14.3,"e":14.98},{"d":591,"f":592.6,"s":17.99,"e":18.33},{"d":591,"f":592.6,"s":20.07,"e":21.24},{"d":586,"f":587.6,"s":14.39,"e":14.64},{"d":586,"f":587.6,"s":16.4,"e":16.74},{"d":583,"f":586,"s":8.71,"e":14.39},{"d":580,"f":583,"s":10.04,"e":11.2},{"d":580,"f":583,"s":15.89,"e":16.06},{"d":580,"f":583,"s":16.65,"e":17},{"d":578,"f":581,"s":12.79,"e":18},{"d":574,"f":577,"s":10.63,"e":11.7},{"d":574,"f":577,"s":11.42,"e":11.71},{"d":574,"f":577,"s":12.3,"e":13.47},{"d":572,"f":573.6,"s":8.03,"e":8.45},{"d":572,"f":573.6,"s":12.3,"e":12.79},{"d":572,"f":573.6,"s":15.21,"e":16.06},{"d":570,"f":573,"s":16.06,"e":16.32},{"d":570,"f":573,"s":16.48,"e":16.82},{"d":568,"f":571,"s":3.54,"e":4.28},{"d":568,"f":571,"s":4.37,"e":4.79},{"d":568,"f":571,"s":10.88,"e":11.87},{"d":568,"f":571,"s":14.22,"e":14.72},{"d":568,"f":571,"s":16.06,"e":17.31},{"d":568,"f":569.6,"s":2.53,"e":3.04},{"d":568,"f":569.6,"s":3.21,"e":3.54},{"d":568,"f":569.6,"s":4.79,"e":5.28},{"d":568,"f":569.6,"s":7.86,"e":8.88},{"d":568,"f":569.6,"s":10.3,"e":10.8},{"d":567,"f":568.6,"s":12.96,"e":13.73},{"d":559,"f":560.6,"s":1.79,"e":2.04},{"d":559,"f":560.6,"s":16.15,"e":17.14},{"d":559,"f":560.6,"s":17.31,"e":18.25},{"d":559,"f":560.6,"s":18.9,"e":19.67},{"d":557,"f":560,"s":16.32,"e":16.74},{"d":557,"f":560,"s":17.31,"e":17.73},{"d":553,"f":554.6,"s":3.87,"e":4.28},{"d":553,"f":554.6,"s":9.47,"e":10.04},{"d":553,"f":554.6,"s":10.12,"e":11.54},{"d":552,"f":555,"s":11.63,"e":12.05},{"d":552,"f":555,"s":12.39,"e":12.62},{"d":552,"f":555,"s":12.96,"e":13.3},{"d":552,"f":555,"s":13.73,"e":15.74},{"d":550,"f":553,"s":11.37,"e":17.08},{"d":540,"f":543,"s":0.08,"e":0.86},{"d":540,"f":541.6,"s":12.45,"e":12.96},{"d":540,"f":541.6,"s":16.32,"e":17.31},{"d":537,"f":540,"s":3.38,"e":3.54},{"d":537,"f":540,"s":11.71,"e":12.3},{"d":537,"f":540,"s":12.96,"e":14.72},{"d":537,"f":540,"s":14.81,"e":16.06},{"d":537,"f":540,"s":19.24,"e":20.58},{"d":535,"f":536.6,"s":15.97,"e":18.25},{"d":532,"f":535,"s":11.54,"e":12.13},{"d":526,"f":529,"s":11.63,"e":12.22},{"d":526,"f":527.6,"s":15.21,"e":16.14},{"d":521,"f":522.6,"s":14.89,"e":15.97},{"d":521,"f":522.6,"s":17.23,"e":18.25},{"d":514,"f":517,"s":6.86,"e":7.95},{"d":514,"f":517,"s":13.38,"e":14.3},{"d":513,"f":514.6,"s":15.21,"e":16.65},{"d":512,"f":513.6,"s":18.42,"e":22},{"d":509,"f":512,"s":18.65,"e":19.67},{"d":509,"f":512,"s":20.75,"e":21.67},{"d":503,"f":504.6,"s":4.54,"e":4.96},{"d":503,"f":504.6,"s":5.04,"e":5.45},{"d":503,"f":504.6,"s":8.37,"e":11.54},{"d":499,"f":502,"s":17.57,"e":18.07},{"d":499,"f":500.6,"s":14.39,"e":15.74},{"d":499,"f":500.6,"s":17.08,"e":17.57},{"d":489,"f":490.6,"s":2.78,"e":5.53},{"d":489,"f":490.6,"s":7.54,"e":7.78},{"d":489,"f":490.6,"s":23.34,"e":23.68},{"d":487,"f":490,"s":8.54,"e":9.04},{"d":487,"f":490,"s":9.3,"e":9.55},{"d":486,"f":489,"s":7.62,"e":7.86},{"d":486,"f":489,"s":8.2,"e":9.64},{"d":486,"f":489,"s":9.87,"e":11.87},{"d":486,"f":489,"s":13.21,"e":13.56},{"d":486,"f":489,"s":13.73,"e":14.72},{"d":485,"f":486.6,"s":0.6,"e":9.38},{"d":484,"f":487,"s":11.12,"e":11.71},{"d":476,"f":479,"s":0.77,"e":1.03},{"d":472,"f":475,"s":3.12,"e":3.46},{"d":472,"f":475,"s":12.88,"e":14.13},{"d":472,"f":475,"s":14.46,"e":16.23},{"d":471,"f":472.6,"s":18.74,"e":20.58},{"d":470,"f":473,"s":19.24,"e":19.67},{"d":470,"f":471.6,"s":13.38,"e":14.13},{"d":470,"f":471.6,"s":14.98,"e":15.66},{"d":470,"f":471.6,"s":16.23,"e":16.48},{"d":470,"f":471.6,"s":18.07,"e":18.82},{"d":466,"f":467.6,"s":3.29,"e":3.46},{"d":462,"f":465,"s":1.62,"e":1.96},{"d":462,"f":465,"s":3.78,"e":5.87},{"d":462,"f":465,"s":6.29,"e":9.21},{"d":462,"f":465,"s":9.3,"e":19.82},{"d":460,"f":463,"s":13.13,"e":13.56},{"d":460,"f":463,"s":15.13,"e":15.38},{"d":460,"f":463,"s":15.47,"e":16.57},{"d":460,"f":463,"s":16.82,"e":17.23},{"d":460,"f":463,"s":17.66,"e":18.16},{"d":460,"f":463,"s":19,"e":19.42},{"d":461,"f":462.6,"s":22.43,"e":23.25},{"d":456,"f":457.6,"s":10.63,"e":12.13},{"d":456,"f":457.6,"s":12.79,"e":17.73},{"d":453,"f":456,"s":15.38,"e":15.74},{"d":453,"f":456,"s":16.15,"e":17.4},{"d":447,"f":448.6,"s":13.13,"e":14.98},{"d":447,"f":448.6,"s":20.84,"e":21.24},{"d":444,"f":447,"s":3.38,"e":3.54},{"d":442,"f":443.6,"s":15.07,"e":15.97},{"d":438,"f":439.6,"s":1.45,"e":4.37},{"d":438,"f":439.6,"s":13.13,"e":13.3},{"d":438,"f":439.6,"s":13.38,"e":14.3},{"d":438,"f":439.6,"s":15.8,"e":16.32},{"d":433,"f":434.6,"s":15.3,"e":16.91},{"d":430,"f":433,"s":20.42,"e":20.84},{"d":429,"f":430.6,"s":15.97,"e":16.4},{"d":428,"f":429.6,"s":18.74,"e":19.08},{"d":420,"f":421.6,"s":2.29,"e":2.78},{"d":416,"f":419,"s":17,"e":17.23},{"d":416,"f":419,"s":17.57,"e":18.16},{"d":415,"f":416.6,"s":17.48,"e":18.25},{"d":415,"f":416.6,"s":21.75,"e":23.43},{"d":411,"f":412.6,"s":17.99,"e":18.33},{"d":411,"f":412.6,"s":18.48,"e":18.99},{"d":410,"f":413,"s":18.48,"e":18.74},{"d":411,"f":412.6,"s":19.08,"e":19.33},{"d":411,"f":412.6,"s":20.25,"e":20.67},{"d":410,"f":411.6,"s":6.21,"e":6.95},{"d":410,"f":411.6,"s":7.29,"e":7.54},{"d":401,"f":402.6,"s":16.23,"e":16.99},{"d":401,"f":402.6,"s":19.76,"e":19.9},{"d":396,"f":397.6,"s":10.71,"e":11.05},{"d":396,"f":397.6,"s":13.38,"e":14.04},{"d":392,"f":393.6,"s":13.47,"e":13.79},{"d":392,"f":393.6,"s":16.06,"e":17.66},{"d":392,"f":393.6,"s":18.33,"e":18.56},{"d":392,"f":393.6,"s":19.08,"e":19.76},{"d":387,"f":388.6,"s":18.99,"e":21.5},{"d":382,"f":383.6,"s":20.84,"e":21.16},{"d":382,"f":383.6,"s":21.24,"e":21.67},{"d":382,"f":383.6,"s":22.09,"e":22.58},{"d":382,"f":383.6,"s":22.77,"e":23.18},{"d":374,"f":377,"s":20.07,"e":20.42},{"d":364,"f":367,"s":18.65,"e":19.58},{"d":345,"f":346.6,"s":21.33,"e":21.67},{"d":337,"f":340,"s":17.74,"e":18.25},
{"d":309,"f":310.6,"s":8.54,"e":11.79},{"d":304,"f":307,"s":2.04,"e":2.53},{"d":304,"f":307,"s":4.71,"e":5.2},{"d":310,"f":313,"s":12.05,"e":12.39},{"d":310,"f":313,"s":14.55,"e":14.89},{"d":308,"f":309.6,"s":17,"e":17.57},{"d":308,"f":309.6,"s":19.9,"e":22.58},{"d":305,"f":308,"s":16.82,"e":17.48},{"d":305,"f":308,"s":19.41,"e":19.9},{"d":297,"f":300,"s":23.18,"e":24},{"d":289,"f":290.6,"s":1.7,"e":2.13},{"d":289,"f":290.6,"s":7.38,"e":8.03},{"d":289,"f":290.6,"s":8.36,"e":8.62},{"d":289,"f":290.6,"s":9.87,"e":10.46},{"d":289,"f":290.6,"s":10.63,"e":12.53},{"d":289,"f":290.6,"s":15.38,"e":16.4},{"d":289,"f":290.6,"s":16.57,"e":16.82},{"d":280,"f":281.6,"s":2.7,"e":3.2},{"d":280,"f":281.6,"s":15.8,"e":16.06},{"d":275,"f":276.6,"s":0.08,"e":1.2},{"d":269,"f":272,"s":12.45,"e":12.88},{"d":266,"f":267.6,"s":3.37,"e":3.71},{"d":266,"f":267.6,"s":4.88,"e":5.2},{"d":266,"f":267.6,"s":10.12,"e":10.63},{"d":263,"f":266,"s":3.46,"e":3.78},{"d":263,"f":266,"s":11.05,"e":11.46},{"d":263,"f":266,"s":11.63,"e":12.22},{"d":263,"f":266,"s":12.62,"e":13.79},{"d":263,"f":266,"s":19.08,"e":19.82},{"d":261,"f":262.6,"s":4.62,"e":8.03},{"d":261,"f":262.6,"s":14.81,"e":16.74},{"d":259,"f":262,"s":8.36,"e":8.62},{"d":259,"f":262,"s":8.7,"e":8.87},{"d":259,"f":262,"s":10.03,"e":13.05},{"d":259,"f":262,"s":13.13,"e":13.64},{"d":259,"f":262,"s":15.07,"e":15.74},{"d":253,"f":254.6,"s":12.39,"e":13.38},{"d":249,"f":252,"s":19.15,"e":19.67},{"d":247,"f":248.6,"s":13.3,"e":13.79},{"d":247,"f":248.6,"s":13.87,"e":14.3},{"d":247,"f":248.6,"s":15.07,"e":15.3},{"d":247,"f":248.6,"s":17,"e":17.23},{"d":235,"f":236.6,"s":10.88,"e":11.79},{"d":235,"f":236.6,"s":13.38,"e":15.21},{"d":227,"f":230,"s":9.12,"e":9.38},{"d":227,"f":230,"s":17.66,"e":18.56},{"d":225,"f":226.6,"s":8.62,"e":8.96},{"d":225,"f":226.6,"s":10.54,"e":12.79},{"d":225,"f":226.6,"s":14.13,"e":14.39},{"d":222,"f":225,"s":6.53,"e":7.2},{"d":222,"f":225,"s":13.05,"e":13.47},{"d":222,"f":225,"s":14.39,"e":15.38},{"d":222,"f":225,"s":15.8,"e":16.65},{"d":221,"f":222.6,"s":12.79,"e":14.13},{"d":215,"f":216.6,"s":19.9,"e":20.42},{"d":201,"f":202.6,"s":13.05,"e":14.89},{"d":201,"f":202.6,"s":16.82,"e":17.23},{"d":201,"f":202.6,"s":18.65,"e":19.24},{"d":180,"f":181.6,"s":13.79,"e":15.74},{"d":176,"f":177.6,"s":21.16,"e":22.58},{"d":149,"f":152,"s":17.9,"e":18.74},{"d":148,"f":149.6,"s":13.64,"e":14.22},{"d":148,"f":149.6,"s":14.3,"e":14.72},{"d":148,"f":149.6,"s":16.06,"e":17.4},{"d":148,"f":149.6,"s":18.42,"e":19.33},{"d":136,"f":139,"s":5.53,"e":6.2},{"d":134,"f":135.6,"s":10.88,"e":11.28},{"d":134,"f":135.6,"s":12.22,"e":12.54},{"d":130,"f":133,"s":9.12,"e":9.72},{"d":130,"f":133,"s":14.22,"e":15.8},{"d":130,"f":133,"s":17.48,"e":17.82},{"d":130,"f":133,"s":18.33,"e":18.74},{"d":130,"f":133,"s":19,"e":19.67},{"d":130,"f":133,"s":20.5,"e":21.58},{"d":128,"f":131,"s":14.13,"e":14.72},{"d":126,"f":129,"s":5.7,"e":5.96},{"d":126,"f":129,"s":14.04,"e":14.55},{"d":125,"f":126.6,"s":14.81,"e":15.47},{"d":125,"f":126.6,"s":16.4,"e":16.91},{"d":125,"f":126.6,"s":18.82,"e":19.82},{"d":120,"f":121.6,"s":13.64,"e":14.04},{"d":120,"f":121.6,"s":14.22,"e":15.3},{"d":115,"f":116.6,"s":22.66,"e":23.34},{"d":108,"f":111,"s":7.29,"e":7.54},{"d":108,"f":111,"s":16.15,"e":16.82},{"d":108,"f":111,"s":17.57,"e":17.82},{"d":106,"f":107.6,"s":14.3,"e":15.21},{"d":102,"f":103.6,"s":13.13,"e":16.82},{"d":101,"f":102.6,"s":4.04,"e":5.28},{"d":101,"f":102.6,"s":6.2,"e":6.7},{"d":101,"f":102.6,"s":6.87,"e":7.54},{"d":101,"f":102.6,"s":10.46,"e":11.2},{"d":101,"f":103,"s":14.81,"e":15.3},{"d":98,"f":101,"s":3.04,"e":4.29},{"d":98,"f":101,"s":11.71,"e":13.79},{"d":97,"f":98.6,"s":15.47,"e":16.4},{"d":88,"f":89.6,"s":23.68,"e":24},{"d":50,"f":51.6,"s":2.13,"e":2.53},{"d":48,"f":51,"s":13.79,"e":16.32},{"d":52,"f":55,"s":18.25,"e":18.99},{"d":52,"f":55,"s":21,"e":21.33},{"d":42,"f":45,"s":18.9,"e":19.67},{"d":42,"f":45,"s":19.9,"e":20.49},{"d":38,"f":41,"s":0.86,"e":3.2},{"d":38,"f":41,"s":12.3,"e":16.57},{"d":32,"f":33.6,"s":15.07,"e":15.21},{"d":32,"f":33.6,"s":15.55,"e":17.9},{"d":28,"f":31,"s":18.16,"e":20.84},{"d":20,"f":23,"s":18.65,"e":18.9},{"d":18,"f":19.6,"s":23.02,"e":23.51},{"d":18,"f":19.6,"s":23.77,"e":24},{"d":6,"f":9,"s":21.09,"e":21.25}],
"loss":[
{"d":60,"f":83.4,"s":0.05,"e":24.03},{"d":152.4,"f":175.6,"s":0.05,"e":24.03},{"d":181.2,"f":202.2,"s":0.05,"e":24.03},{"d":945,"f":984.8,"s":0.05,"e":24.03},{"d":1049,"f":1067.7,"s":0.05,"e":24.03},{"d":92,"f":93.6,"s":0.05,"e":24.03},{"d":677,"f":680,"s":0.05,"e":24.03},{"d":564.6,"f":567.4,"s":9.95,"e":24},{"d":762,"f":763.6,"s":9.3,"e":9.95},{"d":727,"f":730,"s":11.54,"e":12.62},{"d":694,"f":697,"s":14.72,"e":16.48},{"d":833,"f":836,"s":16.65,"e":16.82},{"d":93,"f":96,"s":9.95,"e":11.05},{"d":203,"f":204.6,"s":18.99,"e":24},{"d":87,"f":88.6,"s":22,"e":24},{"d":2544,"f":2545.6,"s":0.05,"e":24.03},{"d":2517,"f":2520,"s":0.95,"e":9.04},{"d":2296,"f":2299,"s":0.05,"e":24.03},{"d":2213,"f":2216,"s":0.08,"e":10.03},{"d":2179,"f":2180.6,"s":8.96,"e":24},{"d":2128,"f":2129.4,"s":2.3,"e":3.04},{"d":2124,"f":2127.5,"s":2.44,"e":3.04},{"d":2109,"f":2110.6,"s":0.05,"e":24.03},{"d":2104,"f":2105.6,"s":0.08,"e":9.86},{"d":2103,"f":2106,"s":11.46,"e":24},{"d":2096,"f":2097.6,"s":9.22,"e":10.03},{"d":2087,"f":2090,"s":0.2,"e":1.12},{"d":2092,"f":2095,"s":14.55,"e":16.06},{"d":2095,"f":2096.6,"s":23.25,"e":24},{"d":2070,"f":2073,"s":0.08,"e":15.3},{"d":2071,"f":2072.6,"s":15.3,"e":16.57},{"d":2024,"f":2027,"s":23.34,"e":24},{"d":1976,"f":1979,"s":19.99,"e":21.09},{"d":1961.5,"f":1964.5,"s":0.08,"e":9.9},{"d":1944,"f":1947,"s":12.88,"e":24},{"d":1905,"f":1906.6,"s":14.98,"e":18.07},{"d":1902,"f":1905,"s":16.4,"e":16.57},{"d":1897.5,"f":1900.5,"s":14.98,"e":24},{"d":1877,"f":1878.6,"s":10.04,"e":10.62},{"d":1865,"f":1868,"s":12.88,"e":22.94},{"d":1803,"f":1804.6,"s":0.08,"e":12.05},{"d":1799,"f":1800.6,"s":8.2,"e":9.04},{"d":1777,"f":1780,"s":0.08,"e":17.32},{"d":1734.5,"f":1737.5,"s":0.08,"e":19.58},{"d":1698,"f":1701,"s":8.2,"e":13.05},{"d":1650,"f":1651.6,"s":11.54,"e":19.41},{"d":1647,"f":1648.6,"s":8.62,"e":19.08},{"d":1624,"f":1627,"s":3.63,"e":18.74},{"d":1619,"f":1623,"s":0.08,"e":24},{"d":1554,"f":1555.6,"s":10.04,"e":18.41},{"d":1556,"f":1559,"s":19.5,"e":24},{"d":1546.5,"f":1549.5,"s":0.05,"e":24.03},{"d":1498,"f":1499.6,"s":16.82,"e":17.48},{"d":1202,"f":1203.4,"s":0.08,"e":8.12}]},
"layer":[
{"data":{"values":[{"d":1,"f":2557,"s":0.05,"e":24.03}]},"mark":{"type":"rect"},"encoding":{
"x":{"field":"s","type":"quantitative","scale":{"domain":[0.05,24.03],"nice":false,"zero":false},"axis":{"orient":"bottom","values":[5,10,15,20],"grid":false,"title":"UT (hours)","titleFont":"Liberation Sans","titleFontSize":36,"titleFontWeight":"bold","titleColor":"#000","titlePadding":14,"labelFont":"Liberation Sans","labelFontSize":32,"labelFontWeight":"bold","labelColor":"#000","labelPadding":20,"labelFlush":false,"tickColor":"#333","tickWidth":2.5,"tickSize":20,"domainColor":"#333","domainWidth":4}},
"x2":{"field":"e"},
"y":{"field":"d","type":"quantitative","scale":{"domain":[1,2557],"nice":false,"zero":false},"axis":{"orient":"left","values":[1,365,731,1096,1461,1826,2192,2557],"format":"d","grid":false,"title":"Days (no.)","titleFont":"Liberation Sans","titleFontSize":35,"titleFontWeight":"bold","titleColor":"#000","titleX":-90,"titleY":903,"labelFont":"Liberation Sans","labelFontSize":32,"labelFontWeight":"bold","labelColor":"#000","labelPadding":12,"tickColor":"#333","tickWidth":3.5,"tickSize":20,"domainColor":"#333","domainWidth":4}},
"y2":{"field":"f"},
"color":{"datum":"no occurrence","scale":{"domain":["occurrence","no occurrence","dataloss"],"range":["#000000","#00ffff","#d95319"]},"legend":{"title":null,"orient":"none","legendX":368,"legendY":-93.5,"direction":"horizontal","columns":3,"columnPadding":47,"padding":0,"symbolType":"M-1,-0.35H1V0.35H-1Z","symbolSize":12996,"symbolStrokeColor":"#000","symbolStrokeWidth":4,"symbolOpacity":1,"labelFont":"Liberation Sans","labelFontSize":33,"labelFontWeight":"bold","labelColor":"#111","labelOffset":9,"labelLimit":400}}}},
{"data":{"values":[{"d":2566.6,"f":2662,"s":0.03,"e":24.05}]},"mark":{"type":"rect","fill":"#cccccc"},"encoding":{
"x":{"field":"s","type":"quantitative","axis":{"orient":"top","values":[5,10,15,20],"grid":false,"title":null,"labels":false,"tickColor":"#333","tickWidth":2.5,"tickSize":7,"domainColor":"#333","domainWidth":4}},
"x2":{"field":"e"},
"y":{"field":"d","type":"quantitative","axis":{"orient":"right","values":[1,365,731,1096,1461,1826,2192,2557],"grid":false,"title":null,"labels":false,"tickColor":"#333","tickWidth":3.5,"tickSize":20,"domainColor":"#333","domainWidth":4}},
"y2":{"field":"f"}}},
{"data":{"name":"occ"},"mark":{"type":"rect"},"encoding":{"x":{"field":"s","type":"quantitative","axis":null},"x2":{"field":"e"},"y":{"field":"d","type":"quantitative","axis":null},"y2":{"field":"f"},"color":{"datum":"occurrence"}}},
{"data":{"name":"loss"},"mark":{"type":"rect"},"encoding":{"x":{"field":"s","type":"quantitative","axis":null},"x2":{"field":"e"},"y":{"field":"d","type":"quantitative","axis":null},"y2":{"field":"f"},"color":{"datum":"dataloss"}}},
{"data":{"values":[{"u":-0.27,"d":2425,"t":"2017"},{"u":-0.27,"d":2062,"t":"2016"},{"u":-0.27,"d":1695,"t":"2015"},{"u":-0.27,"d":1330,"t":"2014"},{"u":-0.27,"d":963,"t":"2013"},{"u":-0.27,"d":597,"t":"2012"},{"u":-0.27,"d":231,"t":"2011"}]},"mark":{"type":"text","angle":270,"font":"Liberation Sans","fontSize":33,"fontWeight":"bold","color":"#1f5a80","align":"center","baseline":"middle"},"encoding":{"x":{"field":"u","type":"quantitative","axis":null},"y":{"field":"d","type":"quantitative","axis":null},"text":{"field":"t"}}},
{"data":{"values":[{"u":24.42,"d":2483,"t":"⟨"},{"u":24.42,"d":2403,"t":"⟩"},{"u":24.42,"d":2117,"t":"⟨"},{"u":24.42,"d":2038,"t":"⟩"},{"u":24.42,"d":1752,"t":"⟨"},{"u":24.42,"d":1672,"t":"⟩"},{"u":24.42,"d":1386,"t":"⟨"},{"u":24.42,"d":1306,"t":"⟩"},{"u":24.42,"d":1020,"t":"⟨"},{"u":24.42,"d":941,"t":"⟩"},{"u":24.42,"d":655,"t":"⟨"},{"u":24.42,"d":575,"t":"⟩"},{"u":24.42,"d":290,"t":"⟨"},{"u":24.42,"d":212,"t":"⟩"}]},"mark":{"type":"text","angle":90,"font":"DejaVu Sans","fontSize":34,"fontWeight":"bold","color":"#1f5a80","align":"center","baseline":"middle"},"encoding":{"x":{"field":"u","type":"quantitative","axis":null},"y":{"field":"d","type":"quantitative","axis":null},"text":{"field":"t"}}},
{"data":{"values":[{"u":24.45,"d":2452,"t":"Φ"},{"u":24.45,"d":2087,"t":"Φ"},{"u":24.45,"d":1721,"t":"Φ"},{"u":24.45,"d":1358,"t":"Φ"},{"u":24.45,"d":995,"t":"Φ"},{"u":24.45,"d":627,"t":"Φ"},{"u":24.45,"d":264,"t":"Φ"}]},"mark":{"type":"text","angle":90,"font":"Liberation Serif","fontSize":31,"fontWeight":"bold","color":"#1f5a80","align":"center","baseline":"middle"},"encoding":{"x":{"field":"u","type":"quantitative","axis":null},"y":{"field":"d","type":"quantitative","axis":null},"text":{"field":"t"}}},
{"data":{"values":[{"u":24.2,"d":2424,"t":"s"},{"u":24.2,"d":2056,"t":"s"},{"u":24.2,"d":1693,"t":"s"},{"u":24.2,"d":1327,"t":"s"},{"u":24.2,"d":962,"t":"s"},{"u":24.2,"d":596,"t":"s"},{"u":24.2,"d":233,"t":"s"}]},"mark":{"type":"text","angle":90,"font":"Liberation Sans","fontSize":28,"fontWeight":"bold","color":"#1f5a80","align":"center","baseline":"middle"},"encoding":{"x":{"field":"u","type":"quantitative","axis":null},"y":{"field":"d","type":"quantitative","axis":null},"text":{"field":"t"}}},
{"data":{"values":[{"u":24.46,"d":2320,"t":"=77.1"},{"u":24.46,"d":1951,"t":"=88.8"},{"u":24.46,"d":1572,"t":"=117.7"},{"u":24.46,"d":1208,"t":"=145.9"},{"u":24.46,"d":842,"t":"=122.2"},{"u":24.46,"d":482,"t":"=120.1"},{"u":24.46,"d":111,"t":"=113.2"}]},"mark":{"type":"text","angle":90,"font":"Liberation Sans","fontSize":32,"fontWeight":"bold","color":"#1f5a80","align":"center","baseline":"middle"},"encoding":{"x":{"field":"u","type":"quantitative","axis":null},"y":{"field":"d","type":"quantitative","axis":null},"text":{"field":"t"}}}
],
"resolve":{"axis":{"x":"independent","y":"independent"},"scale":{"x":"shared","y":"shared"}}}
